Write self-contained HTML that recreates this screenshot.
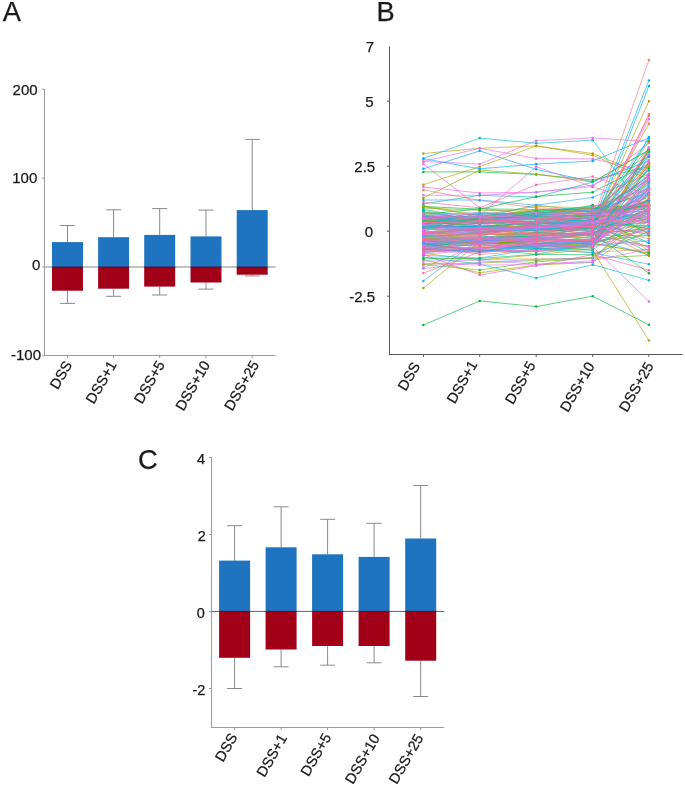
<!DOCTYPE html><html><head><meta charset="utf-8"><style>html,body{margin:0;padding:0;background:#fff;width:685px;height:788px;overflow:hidden;position:relative}</style></head><body><svg width="685" height="788" viewBox="0 0 685 788" style="position:absolute;left:0;top:0;will-change:transform">
<rect width="685" height="788" fill="#ffffff"/>
<text x="2.8" y="21.0" font-family='"Liberation Sans", sans-serif' font-size="27.3" fill="#1a1a1a" stroke="#1a1a1a" stroke-width="0.25" text-anchor="start" >A</text>
<text x="376.6" y="21.0" font-family='"Liberation Sans", sans-serif' font-size="27.3" fill="#1a1a1a" stroke="#1a1a1a" stroke-width="0.25" text-anchor="start" >B</text>
<text x="138.0" y="468.9" font-family='"Liberation Sans", sans-serif' font-size="27.3" fill="#1a1a1a" stroke="#1a1a1a" stroke-width="0.25" text-anchor="start" >C</text>
<line x1="44.5" y1="89" x2="44.5" y2="356.0" stroke="#9c9c9c" stroke-width="1" />
<line x1="44.0" y1="355.5" x2="275.4" y2="355.5" stroke="#9c9c9c" stroke-width="1" />
<line x1="42.0" y1="89.3" x2="44.5" y2="89.3" stroke="#9c9c9c" stroke-width="1" />
<text x="37.6" y="94.9" font-family='"Liberation Sans", sans-serif' font-size="15" fill="#1a1a1a" stroke="#1a1a1a" stroke-width="0.25" text-anchor="end" >200</text>
<line x1="42.0" y1="178.2" x2="44.5" y2="178.2" stroke="#9c9c9c" stroke-width="1" />
<text x="37.3" y="182.5" font-family='"Liberation Sans", sans-serif' font-size="15" fill="#1a1a1a" stroke="#1a1a1a" stroke-width="0.25" text-anchor="end" >100</text>
<line x1="42.0" y1="267" x2="44.5" y2="267" stroke="#9c9c9c" stroke-width="1" />
<text x="40.3" y="270.3" font-family='"Liberation Sans", sans-serif' font-size="15" fill="#1a1a1a" stroke="#1a1a1a" stroke-width="0.25" text-anchor="end" >0</text>
<line x1="42.0" y1="355.8" x2="44.5" y2="355.8" stroke="#9c9c9c" stroke-width="1" />
<text x="41" y="360.3" font-family='"Liberation Sans", sans-serif' font-size="15" fill="#1a1a1a" stroke="#1a1a1a" stroke-width="0.25" text-anchor="end" >-100</text>
<line x1="67.5" y1="355.5" x2="67.5" y2="358.0" stroke="#9c9c9c" stroke-width="1" />
<line x1="113.6" y1="355.5" x2="113.6" y2="358.0" stroke="#9c9c9c" stroke-width="1" />
<line x1="159.7" y1="355.5" x2="159.7" y2="358.0" stroke="#9c9c9c" stroke-width="1" />
<line x1="206" y1="355.5" x2="206" y2="358.0" stroke="#9c9c9c" stroke-width="1" />
<line x1="252.2" y1="355.5" x2="252.2" y2="358.0" stroke="#9c9c9c" stroke-width="1" />
<line x1="67.5" y1="225.5" x2="67.5" y2="242.1" stroke="#8a8a8a" stroke-width="1" />
<line x1="60.0" y1="225.5" x2="75.0" y2="225.5" stroke="#8a8a8a" stroke-width="1" />
<line x1="67.5" y1="290.7" x2="67.5" y2="303.4" stroke="#8a8a8a" stroke-width="1" />
<line x1="60.0" y1="303.4" x2="75.0" y2="303.4" stroke="#8a8a8a" stroke-width="1" />
<line x1="113.6" y1="209.8" x2="113.6" y2="237.2" stroke="#8a8a8a" stroke-width="1" />
<line x1="106.1" y1="209.8" x2="121.1" y2="209.8" stroke="#8a8a8a" stroke-width="1" />
<line x1="113.6" y1="288.7" x2="113.6" y2="296.3" stroke="#8a8a8a" stroke-width="1" />
<line x1="106.1" y1="296.3" x2="121.1" y2="296.3" stroke="#8a8a8a" stroke-width="1" />
<line x1="159.7" y1="208.6" x2="159.7" y2="234.9" stroke="#8a8a8a" stroke-width="1" />
<line x1="152.2" y1="208.6" x2="167.2" y2="208.6" stroke="#8a8a8a" stroke-width="1" />
<line x1="159.7" y1="286.6" x2="159.7" y2="295" stroke="#8a8a8a" stroke-width="1" />
<line x1="152.2" y1="295" x2="167.2" y2="295" stroke="#8a8a8a" stroke-width="1" />
<line x1="206" y1="210.1" x2="206" y2="236.4" stroke="#8a8a8a" stroke-width="1" />
<line x1="198.5" y1="210.1" x2="213.5" y2="210.1" stroke="#8a8a8a" stroke-width="1" />
<line x1="206" y1="282.5" x2="206" y2="289.1" stroke="#8a8a8a" stroke-width="1" />
<line x1="198.5" y1="289.1" x2="213.5" y2="289.1" stroke="#8a8a8a" stroke-width="1" />
<line x1="252.2" y1="139.4" x2="252.2" y2="210.1" stroke="#8a8a8a" stroke-width="1" />
<line x1="244.7" y1="139.4" x2="259.7" y2="139.4" stroke="#8a8a8a" stroke-width="1" />
<line x1="252.2" y1="274.7" x2="252.2" y2="275.9" stroke="#8a8a8a" stroke-width="1" />
<line x1="244.7" y1="275.9" x2="259.7" y2="275.9" stroke="#8a8a8a" stroke-width="1" />
<line x1="44.5" y1="267" x2="275.4" y2="267" stroke="#888888" stroke-width="1" />
<rect x="52.0" y="242.1" width="31" height="24.900000000000006" fill="#1f74c0"/>
<rect x="52.0" y="267" width="31" height="23.69999999999999" fill="#a10018"/>
<rect x="52.0" y="266.4" width="31" height="1.2" fill="#3c1030" opacity="0.7"/>
<rect x="98.1" y="237.2" width="31" height="29.80000000000001" fill="#1f74c0"/>
<rect x="98.1" y="267" width="31" height="21.69999999999999" fill="#a10018"/>
<rect x="98.1" y="266.4" width="31" height="1.2" fill="#3c1030" opacity="0.7"/>
<rect x="144.2" y="234.9" width="31" height="32.099999999999994" fill="#1f74c0"/>
<rect x="144.2" y="267" width="31" height="19.600000000000023" fill="#a10018"/>
<rect x="144.2" y="266.4" width="31" height="1.2" fill="#3c1030" opacity="0.7"/>
<rect x="190.5" y="236.4" width="31" height="30.599999999999994" fill="#1f74c0"/>
<rect x="190.5" y="267" width="31" height="15.5" fill="#a10018"/>
<rect x="190.5" y="266.4" width="31" height="1.2" fill="#3c1030" opacity="0.7"/>
<rect x="236.7" y="210.1" width="31" height="56.900000000000006" fill="#1f74c0"/>
<rect x="236.7" y="267" width="31" height="7.699999999999989" fill="#a10018"/>
<rect x="236.7" y="266.4" width="31" height="1.2" fill="#3c1030" opacity="0.7"/>
<text x="0" y="0" font-family='"Liberation Sans", sans-serif' font-size="14.5" fill="#1a1a1a" stroke="#1a1a1a" stroke-width="0.25" text-anchor="end" transform="translate(72.60,364.50) rotate(-60)">DSS</text>
<text x="0" y="0" font-family='"Liberation Sans", sans-serif' font-size="14.5" fill="#1a1a1a" stroke="#1a1a1a" stroke-width="0.25" text-anchor="end" transform="translate(117.00,364.50) rotate(-60)">DSS+1</text>
<text x="0" y="0" font-family='"Liberation Sans", sans-serif' font-size="14.5" fill="#1a1a1a" stroke="#1a1a1a" stroke-width="0.25" text-anchor="end" transform="translate(165.20,364.50) rotate(-60)">DSS+5</text>
<text x="0" y="0" font-family='"Liberation Sans", sans-serif' font-size="14.5" fill="#1a1a1a" stroke="#1a1a1a" stroke-width="0.25" text-anchor="end" transform="translate(210.60,364.50) rotate(-60)">DSS+10</text>
<text x="0" y="0" font-family='"Liberation Sans", sans-serif' font-size="14.5" fill="#1a1a1a" stroke="#1a1a1a" stroke-width="0.25" text-anchor="end" transform="translate(259.50,364.50) rotate(-60)">DSS+25</text>
<line x1="211.5" y1="457.5" x2="211.5" y2="728.0" stroke="#9c9c9c" stroke-width="1" />
<line x1="211.0" y1="727.5" x2="444.2" y2="727.5" stroke="#9c9c9c" stroke-width="1" />
<line x1="209.0" y1="457.5" x2="211.5" y2="457.5" stroke="#9c9c9c" stroke-width="1" />
<text x="205.2" y="464.3" font-family='"Liberation Sans", sans-serif' font-size="14.5" fill="#1a1a1a" stroke="#1a1a1a" stroke-width="0.25" text-anchor="end" >4</text>
<line x1="209.0" y1="534.5" x2="211.5" y2="534.5" stroke="#9c9c9c" stroke-width="1" />
<text x="205.8" y="541.2" font-family='"Liberation Sans", sans-serif' font-size="14.5" fill="#1a1a1a" stroke="#1a1a1a" stroke-width="0.25" text-anchor="end" >2</text>
<line x1="209.0" y1="611.4" x2="211.5" y2="611.4" stroke="#9c9c9c" stroke-width="1" />
<text x="204.8" y="618.2" font-family='"Liberation Sans", sans-serif' font-size="14.5" fill="#1a1a1a" stroke="#1a1a1a" stroke-width="0.25" text-anchor="end" >0</text>
<line x1="209.0" y1="688.5" x2="211.5" y2="688.5" stroke="#9c9c9c" stroke-width="1" />
<text x="205.3" y="695.2" font-family='"Liberation Sans", sans-serif' font-size="14.5" fill="#1a1a1a" stroke="#1a1a1a" stroke-width="0.25" text-anchor="end" >-2</text>
<line x1="234.6" y1="727.5" x2="234.6" y2="730.0" stroke="#9c9c9c" stroke-width="1" />
<line x1="281.1" y1="727.5" x2="281.1" y2="730.0" stroke="#9c9c9c" stroke-width="1" />
<line x1="327.6" y1="727.5" x2="327.6" y2="730.0" stroke="#9c9c9c" stroke-width="1" />
<line x1="374.1" y1="727.5" x2="374.1" y2="730.0" stroke="#9c9c9c" stroke-width="1" />
<line x1="420.7" y1="727.5" x2="420.7" y2="730.0" stroke="#9c9c9c" stroke-width="1" />
<line x1="234.6" y1="525.7" x2="234.6" y2="560.6" stroke="#8a8a8a" stroke-width="1" />
<line x1="227.1" y1="525.7" x2="242.1" y2="525.7" stroke="#8a8a8a" stroke-width="1" />
<line x1="234.6" y1="657.8" x2="234.6" y2="688.5" stroke="#8a8a8a" stroke-width="1" />
<line x1="227.1" y1="688.5" x2="242.1" y2="688.5" stroke="#8a8a8a" stroke-width="1" />
<line x1="281.1" y1="506.8" x2="281.1" y2="547.3" stroke="#8a8a8a" stroke-width="1" />
<line x1="273.6" y1="506.8" x2="288.6" y2="506.8" stroke="#8a8a8a" stroke-width="1" />
<line x1="281.1" y1="649.5" x2="281.1" y2="666.8" stroke="#8a8a8a" stroke-width="1" />
<line x1="273.6" y1="666.8" x2="288.6" y2="666.8" stroke="#8a8a8a" stroke-width="1" />
<line x1="327.6" y1="519.3" x2="327.6" y2="554.3" stroke="#8a8a8a" stroke-width="1" />
<line x1="320.1" y1="519.3" x2="335.1" y2="519.3" stroke="#8a8a8a" stroke-width="1" />
<line x1="327.6" y1="646" x2="327.6" y2="665.2" stroke="#8a8a8a" stroke-width="1" />
<line x1="320.1" y1="665.2" x2="335.1" y2="665.2" stroke="#8a8a8a" stroke-width="1" />
<line x1="374.1" y1="523.3" x2="374.1" y2="556.9" stroke="#8a8a8a" stroke-width="1" />
<line x1="366.6" y1="523.3" x2="381.6" y2="523.3" stroke="#8a8a8a" stroke-width="1" />
<line x1="374.1" y1="646" x2="374.1" y2="662.8" stroke="#8a8a8a" stroke-width="1" />
<line x1="366.6" y1="662.8" x2="381.6" y2="662.8" stroke="#8a8a8a" stroke-width="1" />
<line x1="420.7" y1="485.5" x2="420.7" y2="538.5" stroke="#8a8a8a" stroke-width="1" />
<line x1="413.2" y1="485.5" x2="428.2" y2="485.5" stroke="#8a8a8a" stroke-width="1" />
<line x1="420.7" y1="660.7" x2="420.7" y2="696.5" stroke="#8a8a8a" stroke-width="1" />
<line x1="413.2" y1="696.5" x2="428.2" y2="696.5" stroke="#8a8a8a" stroke-width="1" />
<line x1="211.5" y1="611.4" x2="444.2" y2="611.4" stroke="#606060" stroke-width="1" />
<rect x="219.1" y="560.6" width="31" height="50.799999999999955" fill="#1f74c0"/>
<rect x="219.1" y="611.4" width="31" height="46.39999999999998" fill="#a10018"/>
<rect x="219.1" y="610.8" width="31" height="1.2" fill="#3c1030" opacity="0.7"/>
<rect x="265.6" y="547.3" width="31" height="64.10000000000002" fill="#1f74c0"/>
<rect x="265.6" y="611.4" width="31" height="38.10000000000002" fill="#a10018"/>
<rect x="265.6" y="610.8" width="31" height="1.2" fill="#3c1030" opacity="0.7"/>
<rect x="312.1" y="554.3" width="31" height="57.10000000000002" fill="#1f74c0"/>
<rect x="312.1" y="611.4" width="31" height="34.60000000000002" fill="#a10018"/>
<rect x="312.1" y="610.8" width="31" height="1.2" fill="#3c1030" opacity="0.7"/>
<rect x="358.6" y="556.9" width="31" height="54.5" fill="#1f74c0"/>
<rect x="358.6" y="611.4" width="31" height="34.60000000000002" fill="#a10018"/>
<rect x="358.6" y="610.8" width="31" height="1.2" fill="#3c1030" opacity="0.7"/>
<rect x="405.2" y="538.5" width="31" height="72.89999999999998" fill="#1f74c0"/>
<rect x="405.2" y="611.4" width="31" height="49.30000000000007" fill="#a10018"/>
<rect x="405.2" y="610.8" width="31" height="1.2" fill="#3c1030" opacity="0.7"/>
<text x="0" y="0" font-family='"Liberation Sans", sans-serif' font-size="14.5" fill="#1a1a1a" stroke="#1a1a1a" stroke-width="0.25" text-anchor="end" transform="translate(237.90,736.80) rotate(-60)">DSS</text>
<text x="0" y="0" font-family='"Liberation Sans", sans-serif' font-size="14.5" fill="#1a1a1a" stroke="#1a1a1a" stroke-width="0.25" text-anchor="end" transform="translate(287.60,737.80) rotate(-60)">DSS+1</text>
<text x="0" y="0" font-family='"Liberation Sans", sans-serif' font-size="14.5" fill="#1a1a1a" stroke="#1a1a1a" stroke-width="0.25" text-anchor="end" transform="translate(331.70,737.00) rotate(-60)">DSS+5</text>
<text x="0" y="0" font-family='"Liberation Sans", sans-serif' font-size="14.5" fill="#1a1a1a" stroke="#1a1a1a" stroke-width="0.25" text-anchor="end" transform="translate(380.20,737.80) rotate(-60)">DSS+10</text>
<text x="0" y="0" font-family='"Liberation Sans", sans-serif' font-size="14.5" fill="#1a1a1a" stroke="#1a1a1a" stroke-width="0.25" text-anchor="end" transform="translate(423.90,737.80) rotate(-60)">DSS+25</text>
<line x1="389.5" y1="46.4" x2="389.5" y2="355.0" stroke="#5a5a5a" stroke-width="1"/>
<line x1="389.0" y1="354.5" x2="682.7" y2="354.5" stroke="#5a5a5a" stroke-width="1"/>
<line x1="387.0" y1="101.19999999999999" x2="389.5" y2="101.19999999999999" stroke="#5a5a5a" stroke-width="1" />
<text x="373.7" y="107.4" font-family='"Liberation Sans", sans-serif' font-size="15" fill="#1a1a1a" stroke="#1a1a1a" stroke-width="0.25" text-anchor="end" >5</text>
<line x1="387.0" y1="166.2" x2="389.5" y2="166.2" stroke="#5a5a5a" stroke-width="1" />
<text x="375.2" y="171.8" font-family='"Liberation Sans", sans-serif' font-size="15" fill="#1a1a1a" stroke="#1a1a1a" stroke-width="0.25" text-anchor="end" >2.5</text>
<line x1="387.0" y1="231.2" x2="389.5" y2="231.2" stroke="#5a5a5a" stroke-width="1" />
<text x="373.2" y="236.9" font-family='"Liberation Sans", sans-serif' font-size="15" fill="#1a1a1a" stroke="#1a1a1a" stroke-width="0.25" text-anchor="end" >0</text>
<line x1="387.0" y1="296.2" x2="389.5" y2="296.2" stroke="#5a5a5a" stroke-width="1" />
<text x="375" y="301.7" font-family='"Liberation Sans", sans-serif' font-size="15" fill="#1a1a1a" stroke="#1a1a1a" stroke-width="0.25" text-anchor="end" >-2.5</text>
<text x="374.2" y="52.3" font-family='"Liberation Sans", sans-serif' font-size="15" fill="#1a1a1a" stroke="#1a1a1a" stroke-width="0.25" text-anchor="end" >7</text>
<line x1="423.4" y1="354.5" x2="423.4" y2="357.0" stroke="#5a5a5a" stroke-width="1" />
<line x1="479.7" y1="354.5" x2="479.7" y2="357.0" stroke="#5a5a5a" stroke-width="1" />
<line x1="536.2" y1="354.5" x2="536.2" y2="357.0" stroke="#5a5a5a" stroke-width="1" />
<line x1="592.7" y1="354.5" x2="592.7" y2="357.0" stroke="#5a5a5a" stroke-width="1" />
<line x1="648.9" y1="354.5" x2="648.9" y2="357.0" stroke="#5a5a5a" stroke-width="1" />
<text x="0" y="0" font-family='"Liberation Sans", sans-serif' font-size="14.5" fill="#1a1a1a" stroke="#1a1a1a" stroke-width="0.25" text-anchor="end" transform="translate(420.70,365.80) rotate(-60)">DSS</text>
<text x="0" y="0" font-family='"Liberation Sans", sans-serif' font-size="14.5" fill="#1a1a1a" stroke="#1a1a1a" stroke-width="0.25" text-anchor="end" transform="translate(477.90,364.30) rotate(-60)">DSS+1</text>
<text x="0" y="0" font-family='"Liberation Sans", sans-serif' font-size="14.5" fill="#1a1a1a" stroke="#1a1a1a" stroke-width="0.25" text-anchor="end" transform="translate(536.10,365.00) rotate(-60)">DSS+5</text>
<text x="0" y="0" font-family='"Liberation Sans", sans-serif' font-size="14.5" fill="#1a1a1a" stroke="#1a1a1a" stroke-width="0.25" text-anchor="end" transform="translate(595.10,365.80) rotate(-60)">DSS+10</text>
<text x="0" y="0" font-family='"Liberation Sans", sans-serif' font-size="14.5" fill="#1a1a1a" stroke="#1a1a1a" stroke-width="0.25" text-anchor="end" transform="translate(654.10,365.80) rotate(-60)">DSS+25</text>
<polyline points="423.4,153.5 479.7,148.3 536.2,145.9 592.7,153.5 648.9,176.1" fill="none" stroke="#b79f00" stroke-width="0.65" stroke-opacity="1"/>
<circle cx="423.4" cy="153.5" r="1.25" fill="#b79f00"/>
<circle cx="479.7" cy="148.3" r="1.25" fill="#b79f00"/>
<circle cx="536.2" cy="145.9" r="1.25" fill="#b79f00"/>
<circle cx="592.7" cy="153.5" r="1.25" fill="#b79f00"/>
<circle cx="648.9" cy="176.1" r="1.25" fill="#b79f00"/>
<polyline points="423.4,158.4 479.7,138.1 536.2,143.3 592.7,140.2 648.9,215.6" fill="none" stroke="#00bfc4" stroke-width="0.65" stroke-opacity="1"/>
<circle cx="423.4" cy="158.4" r="1.25" fill="#00bfc4"/>
<circle cx="479.7" cy="138.1" r="1.25" fill="#00bfc4"/>
<circle cx="536.2" cy="143.3" r="1.25" fill="#00bfc4"/>
<circle cx="592.7" cy="140.2" r="1.25" fill="#00bfc4"/>
<circle cx="648.9" cy="215.6" r="1.25" fill="#00bfc4"/>
<polyline points="423.4,161.5 479.7,148.3 536.2,158.4 592.7,158.9 648.9,171.4" fill="none" stroke="#f564e3" stroke-width="0.65" stroke-opacity="1"/>
<circle cx="423.4" cy="161.5" r="1.25" fill="#f564e3"/>
<circle cx="479.7" cy="148.3" r="1.25" fill="#f564e3"/>
<circle cx="536.2" cy="158.4" r="1.25" fill="#f564e3"/>
<circle cx="592.7" cy="158.9" r="1.25" fill="#f564e3"/>
<circle cx="648.9" cy="171.4" r="1.25" fill="#f564e3"/>
<polyline points="423.4,163.9 479.7,207.8 536.2,215.6 592.7,218.2 648.9,200.0" fill="none" stroke="#fb61d7" stroke-width="0.65" stroke-opacity="1"/>
<circle cx="423.4" cy="163.9" r="1.25" fill="#fb61d7"/>
<circle cx="479.7" cy="207.8" r="1.25" fill="#fb61d7"/>
<circle cx="536.2" cy="215.6" r="1.25" fill="#fb61d7"/>
<circle cx="592.7" cy="218.2" r="1.25" fill="#fb61d7"/>
<circle cx="648.9" cy="200.0" r="1.25" fill="#fb61d7"/>
<polyline points="423.4,168.8 479.7,150.9 536.2,169.3 592.7,181.8 648.9,161.0" fill="none" stroke="#00a9ff" stroke-width="0.65" stroke-opacity="1"/>
<circle cx="423.4" cy="168.8" r="1.25" fill="#00a9ff"/>
<circle cx="479.7" cy="150.9" r="1.25" fill="#00a9ff"/>
<circle cx="536.2" cy="169.3" r="1.25" fill="#00a9ff"/>
<circle cx="592.7" cy="181.8" r="1.25" fill="#00a9ff"/>
<circle cx="648.9" cy="161.0" r="1.25" fill="#00a9ff"/>
<polyline points="423.4,171.9 479.7,171.9 536.2,174.5 592.7,180.0 648.9,166.5" fill="none" stroke="#00ba38" stroke-width="0.65" stroke-opacity="1"/>
<circle cx="423.4" cy="171.9" r="1.25" fill="#00ba38"/>
<circle cx="479.7" cy="171.9" r="1.25" fill="#00ba38"/>
<circle cx="536.2" cy="174.5" r="1.25" fill="#00ba38"/>
<circle cx="592.7" cy="180.0" r="1.25" fill="#00ba38"/>
<circle cx="648.9" cy="166.5" r="1.25" fill="#00ba38"/>
<polyline points="423.4,184.7 479.7,166.7 536.2,145.9 592.7,155.3 648.9,179.2" fill="none" stroke="#b79f00" stroke-width="0.65" stroke-opacity="1"/>
<circle cx="423.4" cy="184.7" r="1.25" fill="#b79f00"/>
<circle cx="479.7" cy="166.7" r="1.25" fill="#b79f00"/>
<circle cx="536.2" cy="145.9" r="1.25" fill="#b79f00"/>
<circle cx="592.7" cy="155.3" r="1.25" fill="#b79f00"/>
<circle cx="648.9" cy="179.2" r="1.25" fill="#b79f00"/>
<polyline points="423.4,187.0 479.7,193.0 536.2,192.2 592.7,186.7 648.9,143.1" fill="none" stroke="#f564e3" stroke-width="0.65" stroke-opacity="1"/>
<circle cx="423.4" cy="187.0" r="1.25" fill="#f564e3"/>
<circle cx="479.7" cy="193.0" r="1.25" fill="#f564e3"/>
<circle cx="536.2" cy="192.2" r="1.25" fill="#f564e3"/>
<circle cx="592.7" cy="186.7" r="1.25" fill="#f564e3"/>
<circle cx="648.9" cy="143.1" r="1.25" fill="#f564e3"/>
<polyline points="423.4,189.9 479.7,200.5 536.2,207.8 592.7,210.4 648.9,192.2" fill="none" stroke="#f8766d" stroke-width="0.65" stroke-opacity="1"/>
<circle cx="423.4" cy="189.9" r="1.25" fill="#f8766d"/>
<circle cx="479.7" cy="200.5" r="1.25" fill="#f8766d"/>
<circle cx="536.2" cy="207.8" r="1.25" fill="#f8766d"/>
<circle cx="592.7" cy="210.4" r="1.25" fill="#f8766d"/>
<circle cx="648.9" cy="192.2" r="1.25" fill="#f8766d"/>
<polyline points="423.4,195.3 479.7,195.3 536.2,192.2 592.7,185.2 648.9,156.3" fill="none" stroke="#c77cff" stroke-width="0.65" stroke-opacity="1"/>
<circle cx="423.4" cy="195.3" r="1.25" fill="#c77cff"/>
<circle cx="479.7" cy="195.3" r="1.25" fill="#c77cff"/>
<circle cx="536.2" cy="192.2" r="1.25" fill="#c77cff"/>
<circle cx="592.7" cy="185.2" r="1.25" fill="#c77cff"/>
<circle cx="648.9" cy="156.3" r="1.25" fill="#c77cff"/>
<polyline points="423.4,197.9 479.7,170.1 536.2,174.0 592.7,182.1 648.9,150.6" fill="none" stroke="#9ca700" stroke-width="0.65" stroke-opacity="1"/>
<circle cx="423.4" cy="197.9" r="1.25" fill="#9ca700"/>
<circle cx="479.7" cy="170.1" r="1.25" fill="#9ca700"/>
<circle cx="536.2" cy="174.0" r="1.25" fill="#9ca700"/>
<circle cx="592.7" cy="182.1" r="1.25" fill="#9ca700"/>
<circle cx="648.9" cy="150.6" r="1.25" fill="#9ca700"/>
<polyline points="423.4,161.5 479.7,164.1 536.2,140.7 592.7,137.9 648.9,141.5" fill="none" stroke="#f066ea" stroke-width="0.65" stroke-opacity="1"/>
<circle cx="423.4" cy="161.5" r="1.25" fill="#f066ea"/>
<circle cx="479.7" cy="164.1" r="1.25" fill="#f066ea"/>
<circle cx="536.2" cy="140.7" r="1.25" fill="#f066ea"/>
<circle cx="592.7" cy="137.9" r="1.25" fill="#f066ea"/>
<circle cx="648.9" cy="141.5" r="1.25" fill="#f066ea"/>
<polyline points="423.4,158.7 479.7,168.8 536.2,164.1 592.7,161.0 648.9,137.9" fill="none" stroke="#00a9ff" stroke-width="0.65" stroke-opacity="1"/>
<circle cx="423.4" cy="158.7" r="1.25" fill="#00a9ff"/>
<circle cx="479.7" cy="168.8" r="1.25" fill="#00a9ff"/>
<circle cx="536.2" cy="164.1" r="1.25" fill="#00a9ff"/>
<circle cx="592.7" cy="161.0" r="1.25" fill="#00a9ff"/>
<circle cx="648.9" cy="137.9" r="1.25" fill="#00a9ff"/>
<polyline points="423.4,203.9 479.7,195.3 536.2,197.1 592.7,182.1 648.9,149.8" fill="none" stroke="#00c19a" stroke-width="0.65" stroke-opacity="1"/>
<circle cx="423.4" cy="203.9" r="1.25" fill="#00c19a"/>
<circle cx="479.7" cy="195.3" r="1.25" fill="#00c19a"/>
<circle cx="536.2" cy="197.1" r="1.25" fill="#00c19a"/>
<circle cx="592.7" cy="182.1" r="1.25" fill="#00c19a"/>
<circle cx="648.9" cy="149.8" r="1.25" fill="#00c19a"/>
<polyline points="423.4,202.1 479.7,207.8 536.2,184.7 592.7,176.6 648.9,194.8" fill="none" stroke="#ff64b0" stroke-width="0.65" stroke-opacity="1"/>
<circle cx="423.4" cy="202.1" r="1.25" fill="#ff64b0"/>
<circle cx="479.7" cy="207.8" r="1.25" fill="#ff64b0"/>
<circle cx="536.2" cy="184.7" r="1.25" fill="#ff64b0"/>
<circle cx="592.7" cy="176.6" r="1.25" fill="#ff64b0"/>
<circle cx="648.9" cy="194.8" r="1.25" fill="#ff64b0"/>
<polyline points="423.4,223.4 479.7,215.6 536.2,166.7 592.7,186.7 648.9,205.2" fill="none" stroke="#f564e3" stroke-width="0.65" stroke-opacity="1"/>
<circle cx="423.4" cy="223.4" r="1.25" fill="#f564e3"/>
<circle cx="479.7" cy="215.6" r="1.25" fill="#f564e3"/>
<circle cx="536.2" cy="166.7" r="1.25" fill="#f564e3"/>
<circle cx="592.7" cy="186.7" r="1.25" fill="#f564e3"/>
<circle cx="648.9" cy="205.2" r="1.25" fill="#f564e3"/>
<polyline points="423.4,200.0 479.7,200.0 536.2,205.2 592.7,197.4 648.9,174.0" fill="none" stroke="#35a2ff" stroke-width="0.65" stroke-opacity="1"/>
<circle cx="423.4" cy="200.0" r="1.25" fill="#35a2ff"/>
<circle cx="479.7" cy="200.0" r="1.25" fill="#35a2ff"/>
<circle cx="536.2" cy="205.2" r="1.25" fill="#35a2ff"/>
<circle cx="592.7" cy="197.4" r="1.25" fill="#35a2ff"/>
<circle cx="648.9" cy="174.0" r="1.25" fill="#35a2ff"/>
<polyline points="423.4,206.5 479.7,209.1 536.2,196.6 592.7,192.2 648.9,163.6" fill="none" stroke="#00ba38" stroke-width="0.65" stroke-opacity="1"/>
<circle cx="423.4" cy="206.5" r="1.25" fill="#00ba38"/>
<circle cx="479.7" cy="209.1" r="1.25" fill="#00ba38"/>
<circle cx="536.2" cy="196.6" r="1.25" fill="#00ba38"/>
<circle cx="592.7" cy="192.2" r="1.25" fill="#00ba38"/>
<circle cx="648.9" cy="163.6" r="1.25" fill="#00ba38"/>
<polyline points="423.4,267.6 479.7,244.2 536.2,241.6 592.7,246.8 648.9,301.4" fill="none" stroke="#fd61d1" stroke-width="0.65" stroke-opacity="1"/>
<circle cx="423.4" cy="267.6" r="1.25" fill="#fd61d1"/>
<circle cx="479.7" cy="244.2" r="1.25" fill="#fd61d1"/>
<circle cx="536.2" cy="241.6" r="1.25" fill="#fd61d1"/>
<circle cx="592.7" cy="246.8" r="1.25" fill="#fd61d1"/>
<circle cx="648.9" cy="301.4" r="1.25" fill="#fd61d1"/>
<polyline points="423.4,273.1 479.7,252.0 536.2,249.4 592.7,244.2 648.9,205.2" fill="none" stroke="#ff6c91" stroke-width="0.65" stroke-opacity="1"/>
<circle cx="423.4" cy="273.1" r="1.25" fill="#ff6c91"/>
<circle cx="479.7" cy="252.0" r="1.25" fill="#ff6c91"/>
<circle cx="536.2" cy="249.4" r="1.25" fill="#ff6c91"/>
<circle cx="592.7" cy="244.2" r="1.25" fill="#ff6c91"/>
<circle cx="648.9" cy="205.2" r="1.25" fill="#ff6c91"/>
<polyline points="423.4,280.9 479.7,239.0 536.2,236.4 592.7,233.8 648.9,218.2" fill="none" stroke="#35a2ff" stroke-width="0.65" stroke-opacity="1"/>
<circle cx="423.4" cy="280.9" r="1.25" fill="#35a2ff"/>
<circle cx="479.7" cy="239.0" r="1.25" fill="#35a2ff"/>
<circle cx="536.2" cy="236.4" r="1.25" fill="#35a2ff"/>
<circle cx="592.7" cy="233.8" r="1.25" fill="#35a2ff"/>
<circle cx="648.9" cy="218.2" r="1.25" fill="#35a2ff"/>
<polyline points="423.4,288.1 479.7,241.6 536.2,244.2 592.7,250.4 648.9,340.4" fill="none" stroke="#b79f00" stroke-width="0.65" stroke-opacity="1"/>
<circle cx="423.4" cy="288.1" r="1.25" fill="#b79f00"/>
<circle cx="479.7" cy="241.6" r="1.25" fill="#b79f00"/>
<circle cx="536.2" cy="244.2" r="1.25" fill="#b79f00"/>
<circle cx="592.7" cy="250.4" r="1.25" fill="#b79f00"/>
<circle cx="648.9" cy="340.4" r="1.25" fill="#b79f00"/>
<polyline points="423.4,259.8 479.7,272.8 536.2,265.0 592.7,262.4 648.9,220.8" fill="none" stroke="#9ca700" stroke-width="0.65" stroke-opacity="1"/>
<circle cx="423.4" cy="259.8" r="1.25" fill="#9ca700"/>
<circle cx="479.7" cy="272.8" r="1.25" fill="#9ca700"/>
<circle cx="536.2" cy="265.0" r="1.25" fill="#9ca700"/>
<circle cx="592.7" cy="262.4" r="1.25" fill="#9ca700"/>
<circle cx="648.9" cy="220.8" r="1.25" fill="#9ca700"/>
<polyline points="423.4,254.6 479.7,274.9 536.2,265.8 592.7,254.6 648.9,270.2" fill="none" stroke="#ff62bc" stroke-width="0.65" stroke-opacity="1"/>
<circle cx="423.4" cy="254.6" r="1.25" fill="#ff62bc"/>
<circle cx="479.7" cy="274.9" r="1.25" fill="#ff62bc"/>
<circle cx="536.2" cy="265.8" r="1.25" fill="#ff62bc"/>
<circle cx="592.7" cy="254.6" r="1.25" fill="#ff62bc"/>
<circle cx="648.9" cy="270.2" r="1.25" fill="#ff62bc"/>
<polyline points="423.4,257.2 479.7,264.0 536.2,278.0 592.7,264.7 648.9,280.3" fill="none" stroke="#00bfc4" stroke-width="0.65" stroke-opacity="1"/>
<circle cx="423.4" cy="257.2" r="1.25" fill="#00bfc4"/>
<circle cx="479.7" cy="264.0" r="1.25" fill="#00bfc4"/>
<circle cx="536.2" cy="278.0" r="1.25" fill="#00bfc4"/>
<circle cx="592.7" cy="264.7" r="1.25" fill="#00bfc4"/>
<circle cx="648.9" cy="280.3" r="1.25" fill="#00bfc4"/>
<polyline points="423.4,325.1 479.7,300.9 536.2,306.6 592.7,296.2 648.9,324.8" fill="none" stroke="#00ba38" stroke-width="0.65" stroke-opacity="1"/>
<circle cx="423.4" cy="325.1" r="1.25" fill="#00ba38"/>
<circle cx="479.7" cy="300.9" r="1.25" fill="#00ba38"/>
<circle cx="536.2" cy="306.6" r="1.25" fill="#00ba38"/>
<circle cx="592.7" cy="296.2" r="1.25" fill="#00ba38"/>
<circle cx="648.9" cy="324.8" r="1.25" fill="#00ba38"/>
<polyline points="423.4,215.6 479.7,223.4 536.2,218.2 592.7,220.8 648.9,60.1" fill="none" stroke="#f8766d" stroke-width="0.65" stroke-opacity="1"/>
<circle cx="423.4" cy="215.6" r="1.25" fill="#f8766d"/>
<circle cx="479.7" cy="223.4" r="1.25" fill="#f8766d"/>
<circle cx="536.2" cy="218.2" r="1.25" fill="#f8766d"/>
<circle cx="592.7" cy="220.8" r="1.25" fill="#f8766d"/>
<circle cx="648.9" cy="60.1" r="1.25" fill="#f8766d"/>
<polyline points="423.4,223.4 479.7,228.6 536.2,226.0 592.7,223.4 648.9,80.4" fill="none" stroke="#00b0f6" stroke-width="0.65" stroke-opacity="1"/>
<circle cx="423.4" cy="223.4" r="1.25" fill="#00b0f6"/>
<circle cx="479.7" cy="228.6" r="1.25" fill="#00b0f6"/>
<circle cx="536.2" cy="226.0" r="1.25" fill="#00b0f6"/>
<circle cx="592.7" cy="223.4" r="1.25" fill="#00b0f6"/>
<circle cx="648.9" cy="80.4" r="1.25" fill="#00b0f6"/>
<polyline points="423.4,226.0 479.7,231.2 536.2,228.6 592.7,228.6 648.9,85.9" fill="none" stroke="#00a5ff" stroke-width="0.65" stroke-opacity="1"/>
<circle cx="423.4" cy="226.0" r="1.25" fill="#00a5ff"/>
<circle cx="479.7" cy="231.2" r="1.25" fill="#00a5ff"/>
<circle cx="536.2" cy="228.6" r="1.25" fill="#00a5ff"/>
<circle cx="592.7" cy="228.6" r="1.25" fill="#00a5ff"/>
<circle cx="648.9" cy="85.9" r="1.25" fill="#00a5ff"/>
<polyline points="423.4,228.6 479.7,226.0 536.2,231.2 592.7,226.0 648.9,101.2" fill="none" stroke="#9ca700" stroke-width="0.65" stroke-opacity="1"/>
<circle cx="423.4" cy="228.6" r="1.25" fill="#9ca700"/>
<circle cx="479.7" cy="226.0" r="1.25" fill="#9ca700"/>
<circle cx="536.2" cy="231.2" r="1.25" fill="#9ca700"/>
<circle cx="592.7" cy="226.0" r="1.25" fill="#9ca700"/>
<circle cx="648.9" cy="101.2" r="1.25" fill="#9ca700"/>
<polyline points="423.4,233.8 479.7,228.6 536.2,226.0 592.7,231.2 648.9,114.2" fill="none" stroke="#ea8331" stroke-width="0.65" stroke-opacity="1"/>
<circle cx="423.4" cy="233.8" r="1.25" fill="#ea8331"/>
<circle cx="479.7" cy="228.6" r="1.25" fill="#ea8331"/>
<circle cx="536.2" cy="226.0" r="1.25" fill="#ea8331"/>
<circle cx="592.7" cy="231.2" r="1.25" fill="#ea8331"/>
<circle cx="648.9" cy="114.2" r="1.25" fill="#ea8331"/>
<polyline points="423.4,231.2 479.7,233.8 536.2,228.6 592.7,226.0 648.9,116.0" fill="none" stroke="#ff62bc" stroke-width="0.65" stroke-opacity="1"/>
<circle cx="423.4" cy="231.2" r="1.25" fill="#ff62bc"/>
<circle cx="479.7" cy="233.8" r="1.25" fill="#ff62bc"/>
<circle cx="536.2" cy="228.6" r="1.25" fill="#ff62bc"/>
<circle cx="592.7" cy="226.0" r="1.25" fill="#ff62bc"/>
<circle cx="648.9" cy="116.0" r="1.25" fill="#ff62bc"/>
<polyline points="423.4,226.0 479.7,223.4 536.2,231.2 592.7,228.6 648.9,118.9" fill="none" stroke="#f564e3" stroke-width="0.65" stroke-opacity="1"/>
<circle cx="423.4" cy="226.0" r="1.25" fill="#f564e3"/>
<circle cx="479.7" cy="223.4" r="1.25" fill="#f564e3"/>
<circle cx="536.2" cy="231.2" r="1.25" fill="#f564e3"/>
<circle cx="592.7" cy="228.6" r="1.25" fill="#f564e3"/>
<circle cx="648.9" cy="118.9" r="1.25" fill="#f564e3"/>
<polyline points="423.4,220.8 479.7,226.0 536.2,223.4 592.7,223.4 648.9,123.8" fill="none" stroke="#e38900" stroke-width="0.65" stroke-opacity="1"/>
<circle cx="423.4" cy="220.8" r="1.25" fill="#e38900"/>
<circle cx="479.7" cy="226.0" r="1.25" fill="#e38900"/>
<circle cx="536.2" cy="223.4" r="1.25" fill="#e38900"/>
<circle cx="592.7" cy="223.4" r="1.25" fill="#e38900"/>
<circle cx="648.9" cy="123.8" r="1.25" fill="#e38900"/>
<polyline points="423.4,228.6 479.7,231.2 536.2,228.6 592.7,233.8 648.9,137.1" fill="none" stroke="#00b4ef" stroke-width="0.65" stroke-opacity="1"/>
<circle cx="423.4" cy="228.6" r="1.25" fill="#00b4ef"/>
<circle cx="479.7" cy="231.2" r="1.25" fill="#00b4ef"/>
<circle cx="536.2" cy="228.6" r="1.25" fill="#00b4ef"/>
<circle cx="592.7" cy="233.8" r="1.25" fill="#00b4ef"/>
<circle cx="648.9" cy="137.1" r="1.25" fill="#00b4ef"/>
<polyline points="423.4,225.4 479.7,231.3 536.2,232.4 592.7,224.4 648.9,211.0" fill="none" stroke="#ee8045" stroke-width="0.65" stroke-opacity="0.9"/>
<circle cx="423.4" cy="225.4" r="1.25" fill="#ee8045"/>
<circle cx="479.7" cy="231.3" r="1.25" fill="#ee8045"/>
<circle cx="536.2" cy="232.4" r="1.25" fill="#ee8045"/>
<circle cx="592.7" cy="224.4" r="1.25" fill="#ee8045"/>
<circle cx="648.9" cy="211.0" r="1.25" fill="#ee8045"/>
<polyline points="423.4,239.5 479.7,233.1 536.2,233.2 592.7,234.3 648.9,228.4" fill="none" stroke="#d98f00" stroke-width="0.65" stroke-opacity="0.9"/>
<circle cx="423.4" cy="239.5" r="1.25" fill="#d98f00"/>
<circle cx="479.7" cy="233.1" r="1.25" fill="#d98f00"/>
<circle cx="536.2" cy="233.2" r="1.25" fill="#d98f00"/>
<circle cx="592.7" cy="234.3" r="1.25" fill="#d98f00"/>
<circle cx="648.9" cy="228.4" r="1.25" fill="#d98f00"/>
<polyline points="423.4,226.8 479.7,226.6 536.2,226.4 592.7,222.2 648.9,181.5" fill="none" stroke="#e58700" stroke-width="0.65" stroke-opacity="0.9"/>
<circle cx="423.4" cy="226.8" r="1.25" fill="#e58700"/>
<circle cx="479.7" cy="226.6" r="1.25" fill="#e58700"/>
<circle cx="536.2" cy="226.4" r="1.25" fill="#e58700"/>
<circle cx="592.7" cy="222.2" r="1.25" fill="#e58700"/>
<circle cx="648.9" cy="181.5" r="1.25" fill="#e58700"/>
<polyline points="423.4,217.5 479.7,224.0 536.2,217.1 592.7,219.1 648.9,213.1" fill="none" stroke="#bc9d00" stroke-width="0.65" stroke-opacity="0.9"/>
<circle cx="423.4" cy="217.5" r="1.25" fill="#bc9d00"/>
<circle cx="479.7" cy="224.0" r="1.25" fill="#bc9d00"/>
<circle cx="536.2" cy="217.1" r="1.25" fill="#bc9d00"/>
<circle cx="592.7" cy="219.1" r="1.25" fill="#bc9d00"/>
<circle cx="648.9" cy="213.1" r="1.25" fill="#bc9d00"/>
<polyline points="423.4,253.3 479.7,260.1 536.2,254.8 592.7,248.7 648.9,149.7" fill="none" stroke="#c69900" stroke-width="0.65" stroke-opacity="0.9"/>
<circle cx="423.4" cy="253.3" r="1.25" fill="#c69900"/>
<circle cx="479.7" cy="260.1" r="1.25" fill="#c69900"/>
<circle cx="536.2" cy="254.8" r="1.25" fill="#c69900"/>
<circle cx="592.7" cy="248.7" r="1.25" fill="#c69900"/>
<circle cx="648.9" cy="149.7" r="1.25" fill="#c69900"/>
<polyline points="423.4,233.1 479.7,228.6 536.2,235.8 592.7,228.1 648.9,221.8" fill="none" stroke="#cc9600" stroke-width="0.65" stroke-opacity="0.9"/>
<circle cx="423.4" cy="233.1" r="1.25" fill="#cc9600"/>
<circle cx="479.7" cy="228.6" r="1.25" fill="#cc9600"/>
<circle cx="536.2" cy="235.8" r="1.25" fill="#cc9600"/>
<circle cx="592.7" cy="228.1" r="1.25" fill="#cc9600"/>
<circle cx="648.9" cy="221.8" r="1.25" fill="#cc9600"/>
<polyline points="423.4,257.4 479.7,259.4 536.2,258.9 592.7,258.6 648.9,208.4" fill="none" stroke="#bf9c00" stroke-width="0.65" stroke-opacity="0.9"/>
<circle cx="423.4" cy="257.4" r="1.25" fill="#bf9c00"/>
<circle cx="479.7" cy="259.4" r="1.25" fill="#bf9c00"/>
<circle cx="536.2" cy="258.9" r="1.25" fill="#bf9c00"/>
<circle cx="592.7" cy="258.6" r="1.25" fill="#bf9c00"/>
<circle cx="648.9" cy="208.4" r="1.25" fill="#bf9c00"/>
<polyline points="423.4,232.5 479.7,240.2 536.2,238.4 592.7,235.4 648.9,235.4" fill="none" stroke="#e08b00" stroke-width="0.65" stroke-opacity="0.9"/>
<circle cx="423.4" cy="232.5" r="1.25" fill="#e08b00"/>
<circle cx="479.7" cy="240.2" r="1.25" fill="#e08b00"/>
<circle cx="536.2" cy="238.4" r="1.25" fill="#e08b00"/>
<circle cx="592.7" cy="235.4" r="1.25" fill="#e08b00"/>
<circle cx="648.9" cy="235.4" r="1.25" fill="#e08b00"/>
<polyline points="423.4,218.9 479.7,218.6 536.2,217.6 592.7,214.8 648.9,188.7" fill="none" stroke="#d69000" stroke-width="0.65" stroke-opacity="0.9"/>
<circle cx="423.4" cy="218.9" r="1.25" fill="#d69000"/>
<circle cx="479.7" cy="218.6" r="1.25" fill="#d69000"/>
<circle cx="536.2" cy="217.6" r="1.25" fill="#d69000"/>
<circle cx="592.7" cy="214.8" r="1.25" fill="#d69000"/>
<circle cx="648.9" cy="188.7" r="1.25" fill="#d69000"/>
<polyline points="423.4,206.6 479.7,215.9 536.2,211.0 592.7,208.3 648.9,205.4" fill="none" stroke="#4bb400" stroke-width="0.65" stroke-opacity="0.9"/>
<circle cx="423.4" cy="206.6" r="1.25" fill="#4bb400"/>
<circle cx="479.7" cy="215.9" r="1.25" fill="#4bb400"/>
<circle cx="536.2" cy="211.0" r="1.25" fill="#4bb400"/>
<circle cx="592.7" cy="208.3" r="1.25" fill="#4bb400"/>
<circle cx="648.9" cy="205.4" r="1.25" fill="#4bb400"/>
<polyline points="423.4,240.3 479.7,244.3 536.2,239.2 592.7,234.2 648.9,195.3" fill="none" stroke="#d49200" stroke-width="0.65" stroke-opacity="0.9"/>
<circle cx="423.4" cy="240.3" r="1.25" fill="#d49200"/>
<circle cx="479.7" cy="244.3" r="1.25" fill="#d49200"/>
<circle cx="536.2" cy="239.2" r="1.25" fill="#d49200"/>
<circle cx="592.7" cy="234.2" r="1.25" fill="#d49200"/>
<circle cx="648.9" cy="195.3" r="1.25" fill="#d49200"/>
<polyline points="423.4,234.8 479.7,229.0 536.2,232.4 592.7,235.2 648.9,200.7" fill="none" stroke="#b59f00" stroke-width="0.65" stroke-opacity="0.9"/>
<circle cx="423.4" cy="234.8" r="1.25" fill="#b59f00"/>
<circle cx="479.7" cy="229.0" r="1.25" fill="#b59f00"/>
<circle cx="536.2" cy="232.4" r="1.25" fill="#b59f00"/>
<circle cx="592.7" cy="235.2" r="1.25" fill="#b59f00"/>
<circle cx="648.9" cy="200.7" r="1.25" fill="#b59f00"/>
<polyline points="423.4,219.4 479.7,216.9 536.2,218.0 592.7,223.5 648.9,140.9" fill="none" stroke="#64b200" stroke-width="0.65" stroke-opacity="0.9"/>
<circle cx="423.4" cy="219.4" r="1.25" fill="#64b200"/>
<circle cx="479.7" cy="216.9" r="1.25" fill="#64b200"/>
<circle cx="536.2" cy="218.0" r="1.25" fill="#64b200"/>
<circle cx="592.7" cy="223.5" r="1.25" fill="#64b200"/>
<circle cx="648.9" cy="140.9" r="1.25" fill="#64b200"/>
<polyline points="423.4,249.2 479.7,237.0 536.2,242.2 592.7,241.1 648.9,149.4" fill="none" stroke="#b2a100" stroke-width="0.65" stroke-opacity="0.9"/>
<circle cx="423.4" cy="249.2" r="1.25" fill="#b2a100"/>
<circle cx="479.7" cy="237.0" r="1.25" fill="#b2a100"/>
<circle cx="536.2" cy="242.2" r="1.25" fill="#b2a100"/>
<circle cx="592.7" cy="241.1" r="1.25" fill="#b2a100"/>
<circle cx="648.9" cy="149.4" r="1.25" fill="#b2a100"/>
<polyline points="423.4,236.7 479.7,233.9 536.2,234.9 592.7,233.1 648.9,208.6" fill="none" stroke="#96a900" stroke-width="0.65" stroke-opacity="0.9"/>
<circle cx="423.4" cy="236.7" r="1.25" fill="#96a900"/>
<circle cx="479.7" cy="233.9" r="1.25" fill="#96a900"/>
<circle cx="536.2" cy="234.9" r="1.25" fill="#96a900"/>
<circle cx="592.7" cy="233.1" r="1.25" fill="#96a900"/>
<circle cx="648.9" cy="208.6" r="1.25" fill="#96a900"/>
<polyline points="423.4,247.2 479.7,239.8 536.2,240.5 592.7,239.0 648.9,179.3" fill="none" stroke="#ed813d" stroke-width="0.65" stroke-opacity="0.9"/>
<circle cx="423.4" cy="247.2" r="1.25" fill="#ed813d"/>
<circle cx="479.7" cy="239.8" r="1.25" fill="#ed813d"/>
<circle cx="536.2" cy="240.5" r="1.25" fill="#ed813d"/>
<circle cx="592.7" cy="239.0" r="1.25" fill="#ed813d"/>
<circle cx="648.9" cy="179.3" r="1.25" fill="#ed813d"/>
<polyline points="423.4,251.0 479.7,239.4 536.2,237.9 592.7,241.2 648.9,235.4" fill="none" stroke="#6bb100" stroke-width="0.65" stroke-opacity="0.9"/>
<circle cx="423.4" cy="251.0" r="1.25" fill="#6bb100"/>
<circle cx="479.7" cy="239.4" r="1.25" fill="#6bb100"/>
<circle cx="536.2" cy="237.9" r="1.25" fill="#6bb100"/>
<circle cx="592.7" cy="241.2" r="1.25" fill="#6bb100"/>
<circle cx="648.9" cy="235.4" r="1.25" fill="#6bb100"/>
<polyline points="423.4,217.0 479.7,218.9 536.2,223.4 592.7,205.2 648.9,208.4" fill="none" stroke="#00bc56" stroke-width="0.65" stroke-opacity="0.9"/>
<circle cx="423.4" cy="217.0" r="1.25" fill="#00bc56"/>
<circle cx="479.7" cy="218.9" r="1.25" fill="#00bc56"/>
<circle cx="536.2" cy="223.4" r="1.25" fill="#00bc56"/>
<circle cx="592.7" cy="205.2" r="1.25" fill="#00bc56"/>
<circle cx="648.9" cy="208.4" r="1.25" fill="#00bc56"/>
<polyline points="423.4,208.1 479.7,210.3 536.2,211.1 592.7,215.6 648.9,219.4" fill="none" stroke="#71b000" stroke-width="0.65" stroke-opacity="0.9"/>
<circle cx="423.4" cy="208.1" r="1.25" fill="#71b000"/>
<circle cx="479.7" cy="210.3" r="1.25" fill="#71b000"/>
<circle cx="536.2" cy="211.1" r="1.25" fill="#71b000"/>
<circle cx="592.7" cy="215.6" r="1.25" fill="#71b000"/>
<circle cx="648.9" cy="219.4" r="1.25" fill="#71b000"/>
<polyline points="423.4,231.1 479.7,218.1 536.2,227.0 592.7,225.3 648.9,200.2" fill="none" stroke="#00bb48" stroke-width="0.65" stroke-opacity="0.9"/>
<circle cx="423.4" cy="231.1" r="1.25" fill="#00bb48"/>
<circle cx="479.7" cy="218.1" r="1.25" fill="#00bb48"/>
<circle cx="536.2" cy="227.0" r="1.25" fill="#00bb48"/>
<circle cx="592.7" cy="225.3" r="1.25" fill="#00bb48"/>
<circle cx="648.9" cy="200.2" r="1.25" fill="#00bb48"/>
<polyline points="423.4,240.7 479.7,238.7 536.2,229.1 592.7,228.2 648.9,200.6" fill="none" stroke="#00be68" stroke-width="0.65" stroke-opacity="0.9"/>
<circle cx="423.4" cy="240.7" r="1.25" fill="#00be68"/>
<circle cx="479.7" cy="238.7" r="1.25" fill="#00be68"/>
<circle cx="536.2" cy="229.1" r="1.25" fill="#00be68"/>
<circle cx="592.7" cy="228.2" r="1.25" fill="#00be68"/>
<circle cx="648.9" cy="200.6" r="1.25" fill="#00be68"/>
<polyline points="423.4,232.8 479.7,235.4 536.2,223.7 592.7,217.7 648.9,164.4" fill="none" stroke="#a7a400" stroke-width="0.65" stroke-opacity="0.9"/>
<circle cx="423.4" cy="232.8" r="1.25" fill="#a7a400"/>
<circle cx="479.7" cy="235.4" r="1.25" fill="#a7a400"/>
<circle cx="536.2" cy="223.7" r="1.25" fill="#a7a400"/>
<circle cx="592.7" cy="217.7" r="1.25" fill="#a7a400"/>
<circle cx="648.9" cy="164.4" r="1.25" fill="#a7a400"/>
<polyline points="423.4,243.4 479.7,246.2 536.2,246.4 592.7,242.5 648.9,164.2" fill="none" stroke="#e28900" stroke-width="0.65" stroke-opacity="0.9"/>
<circle cx="423.4" cy="243.4" r="1.25" fill="#e28900"/>
<circle cx="479.7" cy="246.2" r="1.25" fill="#e28900"/>
<circle cx="536.2" cy="246.4" r="1.25" fill="#e28900"/>
<circle cx="592.7" cy="242.5" r="1.25" fill="#e28900"/>
<circle cx="648.9" cy="164.2" r="1.25" fill="#e28900"/>
<polyline points="423.4,244.0 479.7,239.5 536.2,245.3 592.7,246.7 648.9,166.2" fill="none" stroke="#00bf7d" stroke-width="0.65" stroke-opacity="0.9"/>
<circle cx="423.4" cy="244.0" r="1.25" fill="#00bf7d"/>
<circle cx="479.7" cy="239.5" r="1.25" fill="#00bf7d"/>
<circle cx="536.2" cy="245.3" r="1.25" fill="#00bf7d"/>
<circle cx="592.7" cy="246.7" r="1.25" fill="#00bf7d"/>
<circle cx="648.9" cy="166.2" r="1.25" fill="#00bf7d"/>
<polyline points="423.4,231.3 479.7,242.3 536.2,229.3 592.7,231.7 648.9,225.0" fill="none" stroke="#f8766d" stroke-width="0.65" stroke-opacity="0.9"/>
<circle cx="423.4" cy="231.3" r="1.25" fill="#f8766d"/>
<circle cx="479.7" cy="242.3" r="1.25" fill="#f8766d"/>
<circle cx="536.2" cy="229.3" r="1.25" fill="#f8766d"/>
<circle cx="592.7" cy="231.7" r="1.25" fill="#f8766d"/>
<circle cx="648.9" cy="225.0" r="1.25" fill="#f8766d"/>
<polyline points="423.4,216.3 479.7,220.6 536.2,225.4 592.7,213.5 648.9,202.1" fill="none" stroke="#00c082" stroke-width="0.65" stroke-opacity="0.9"/>
<circle cx="423.4" cy="216.3" r="1.25" fill="#00c082"/>
<circle cx="479.7" cy="220.6" r="1.25" fill="#00c082"/>
<circle cx="536.2" cy="225.4" r="1.25" fill="#00c082"/>
<circle cx="592.7" cy="213.5" r="1.25" fill="#00c082"/>
<circle cx="648.9" cy="202.1" r="1.25" fill="#00c082"/>
<polyline points="423.4,238.1 479.7,238.1 536.2,235.8 592.7,222.8 648.9,228.2" fill="none" stroke="#7dae00" stroke-width="0.65" stroke-opacity="0.9"/>
<circle cx="423.4" cy="238.1" r="1.25" fill="#7dae00"/>
<circle cx="479.7" cy="238.1" r="1.25" fill="#7dae00"/>
<circle cx="536.2" cy="235.8" r="1.25" fill="#7dae00"/>
<circle cx="592.7" cy="222.8" r="1.25" fill="#7dae00"/>
<circle cx="648.9" cy="228.2" r="1.25" fill="#7dae00"/>
<polyline points="423.4,248.7 479.7,250.4 536.2,251.9 592.7,246.4 648.9,147.5" fill="none" stroke="#de8c00" stroke-width="0.65" stroke-opacity="0.9"/>
<circle cx="423.4" cy="248.7" r="1.25" fill="#de8c00"/>
<circle cx="479.7" cy="250.4" r="1.25" fill="#de8c00"/>
<circle cx="536.2" cy="251.9" r="1.25" fill="#de8c00"/>
<circle cx="592.7" cy="246.4" r="1.25" fill="#de8c00"/>
<circle cx="648.9" cy="147.5" r="1.25" fill="#de8c00"/>
<polyline points="423.4,248.4 479.7,252.3 536.2,246.9 592.7,243.6 648.9,253.0" fill="none" stroke="#5cb300" stroke-width="0.65" stroke-opacity="0.9"/>
<circle cx="423.4" cy="248.4" r="1.25" fill="#5cb300"/>
<circle cx="479.7" cy="252.3" r="1.25" fill="#5cb300"/>
<circle cx="536.2" cy="246.9" r="1.25" fill="#5cb300"/>
<circle cx="592.7" cy="243.6" r="1.25" fill="#5cb300"/>
<circle cx="648.9" cy="253.0" r="1.25" fill="#5cb300"/>
<polyline points="423.4,212.3 479.7,215.1 536.2,214.4 592.7,211.3 648.9,179.8" fill="none" stroke="#db8e00" stroke-width="0.65" stroke-opacity="0.9"/>
<circle cx="423.4" cy="212.3" r="1.25" fill="#db8e00"/>
<circle cx="479.7" cy="215.1" r="1.25" fill="#db8e00"/>
<circle cx="536.2" cy="214.4" r="1.25" fill="#db8e00"/>
<circle cx="592.7" cy="211.3" r="1.25" fill="#db8e00"/>
<circle cx="648.9" cy="179.8" r="1.25" fill="#db8e00"/>
<polyline points="423.4,244.4 479.7,240.3 536.2,243.3 592.7,243.1 648.9,225.1" fill="none" stroke="#77af00" stroke-width="0.65" stroke-opacity="0.9"/>
<circle cx="423.4" cy="244.4" r="1.25" fill="#77af00"/>
<circle cx="479.7" cy="240.3" r="1.25" fill="#77af00"/>
<circle cx="536.2" cy="243.3" r="1.25" fill="#77af00"/>
<circle cx="592.7" cy="243.1" r="1.25" fill="#77af00"/>
<circle cx="648.9" cy="225.1" r="1.25" fill="#77af00"/>
<polyline points="423.4,251.3 479.7,241.7 536.2,247.9 592.7,239.2 648.9,213.0" fill="none" stroke="#e98428" stroke-width="0.65" stroke-opacity="0.9"/>
<circle cx="423.4" cy="251.3" r="1.25" fill="#e98428"/>
<circle cx="479.7" cy="241.7" r="1.25" fill="#e98428"/>
<circle cx="536.2" cy="247.9" r="1.25" fill="#e98428"/>
<circle cx="592.7" cy="239.2" r="1.25" fill="#e98428"/>
<circle cx="648.9" cy="213.0" r="1.25" fill="#e98428"/>
<polyline points="423.4,223.9 479.7,233.7 536.2,222.8 592.7,225.3 648.9,210.2" fill="none" stroke="#00bfc3" stroke-width="0.65" stroke-opacity="0.9"/>
<circle cx="423.4" cy="223.9" r="1.25" fill="#00bfc3"/>
<circle cx="479.7" cy="233.7" r="1.25" fill="#00bfc3"/>
<circle cx="536.2" cy="222.8" r="1.25" fill="#00bfc3"/>
<circle cx="592.7" cy="225.3" r="1.25" fill="#00bfc3"/>
<circle cx="648.9" cy="210.2" r="1.25" fill="#00bfc3"/>
<polyline points="423.4,217.3 479.7,221.4 536.2,213.0 592.7,207.4 648.9,221.7" fill="none" stroke="#f67867" stroke-width="0.65" stroke-opacity="0.9"/>
<circle cx="423.4" cy="217.3" r="1.25" fill="#f67867"/>
<circle cx="479.7" cy="221.4" r="1.25" fill="#f67867"/>
<circle cx="536.2" cy="213.0" r="1.25" fill="#f67867"/>
<circle cx="592.7" cy="207.4" r="1.25" fill="#f67867"/>
<circle cx="648.9" cy="221.7" r="1.25" fill="#f67867"/>
<polyline points="423.4,213.7 479.7,218.8 536.2,210.2 592.7,208.6 648.9,209.5" fill="none" stroke="#1fb700" stroke-width="0.65" stroke-opacity="0.9"/>
<circle cx="423.4" cy="213.7" r="1.25" fill="#1fb700"/>
<circle cx="479.7" cy="218.8" r="1.25" fill="#1fb700"/>
<circle cx="536.2" cy="210.2" r="1.25" fill="#1fb700"/>
<circle cx="592.7" cy="208.6" r="1.25" fill="#1fb700"/>
<circle cx="648.9" cy="209.5" r="1.25" fill="#1fb700"/>
<polyline points="423.4,252.7 479.7,247.5 536.2,248.5 592.7,246.5 648.9,150.3" fill="none" stroke="#00c087" stroke-width="0.65" stroke-opacity="0.9"/>
<circle cx="423.4" cy="252.7" r="1.25" fill="#00c087"/>
<circle cx="479.7" cy="247.5" r="1.25" fill="#00c087"/>
<circle cx="536.2" cy="248.5" r="1.25" fill="#00c087"/>
<circle cx="592.7" cy="246.5" r="1.25" fill="#00c087"/>
<circle cx="648.9" cy="150.3" r="1.25" fill="#00c087"/>
<polyline points="423.4,219.9 479.7,228.1 536.2,216.7 592.7,219.4 648.9,204.4" fill="none" stroke="#32b600" stroke-width="0.65" stroke-opacity="0.9"/>
<circle cx="423.4" cy="219.9" r="1.25" fill="#32b600"/>
<circle cx="479.7" cy="228.1" r="1.25" fill="#32b600"/>
<circle cx="536.2" cy="216.7" r="1.25" fill="#32b600"/>
<circle cx="592.7" cy="219.4" r="1.25" fill="#32b600"/>
<circle cx="648.9" cy="204.4" r="1.25" fill="#32b600"/>
<polyline points="423.4,221.4 479.7,225.9 536.2,224.4 592.7,214.9 648.9,204.0" fill="none" stroke="#f27d54" stroke-width="0.65" stroke-opacity="0.9"/>
<circle cx="423.4" cy="221.4" r="1.25" fill="#f27d54"/>
<circle cx="479.7" cy="225.9" r="1.25" fill="#f27d54"/>
<circle cx="536.2" cy="224.4" r="1.25" fill="#f27d54"/>
<circle cx="592.7" cy="214.9" r="1.25" fill="#f27d54"/>
<circle cx="648.9" cy="204.0" r="1.25" fill="#f27d54"/>
<polyline points="423.4,214.3 479.7,208.9 536.2,209.5 592.7,212.0 648.9,205.2" fill="none" stroke="#00b92f" stroke-width="0.65" stroke-opacity="0.9"/>
<circle cx="423.4" cy="214.3" r="1.25" fill="#00b92f"/>
<circle cx="479.7" cy="208.9" r="1.25" fill="#00b92f"/>
<circle cx="536.2" cy="209.5" r="1.25" fill="#00b92f"/>
<circle cx="592.7" cy="212.0" r="1.25" fill="#00b92f"/>
<circle cx="648.9" cy="205.2" r="1.25" fill="#00b92f"/>
<polyline points="423.4,245.0 479.7,245.0 536.2,248.5 592.7,250.1 648.9,209.6" fill="none" stroke="#00c0b3" stroke-width="0.65" stroke-opacity="0.9"/>
<circle cx="423.4" cy="245.0" r="1.25" fill="#00c0b3"/>
<circle cx="479.7" cy="245.0" r="1.25" fill="#00c0b3"/>
<circle cx="536.2" cy="248.5" r="1.25" fill="#00c0b3"/>
<circle cx="592.7" cy="250.1" r="1.25" fill="#00c0b3"/>
<circle cx="648.9" cy="209.6" r="1.25" fill="#00c0b3"/>
<polyline points="423.4,252.1 479.7,249.2 536.2,237.6 592.7,245.3 648.9,192.5" fill="none" stroke="#00c091" stroke-width="0.65" stroke-opacity="0.9"/>
<circle cx="423.4" cy="252.1" r="1.25" fill="#00c091"/>
<circle cx="479.7" cy="249.2" r="1.25" fill="#00c091"/>
<circle cx="536.2" cy="237.6" r="1.25" fill="#00c091"/>
<circle cx="592.7" cy="245.3" r="1.25" fill="#00c091"/>
<circle cx="648.9" cy="192.5" r="1.25" fill="#00c091"/>
<polyline points="423.4,215.9 479.7,219.7 536.2,213.7 592.7,209.1 648.9,188.5" fill="none" stroke="#f57961" stroke-width="0.65" stroke-opacity="0.9"/>
<circle cx="423.4" cy="215.9" r="1.25" fill="#f57961"/>
<circle cx="479.7" cy="219.7" r="1.25" fill="#f57961"/>
<circle cx="536.2" cy="213.7" r="1.25" fill="#f57961"/>
<circle cx="592.7" cy="209.1" r="1.25" fill="#f57961"/>
<circle cx="648.9" cy="188.5" r="1.25" fill="#f57961"/>
<polyline points="423.4,248.9 479.7,247.2 536.2,249.1 592.7,247.8 648.9,188.9" fill="none" stroke="#00beca" stroke-width="0.65" stroke-opacity="0.9"/>
<circle cx="423.4" cy="248.9" r="1.25" fill="#00beca"/>
<circle cx="479.7" cy="247.2" r="1.25" fill="#00beca"/>
<circle cx="536.2" cy="249.1" r="1.25" fill="#00beca"/>
<circle cx="592.7" cy="247.8" r="1.25" fill="#00beca"/>
<circle cx="648.9" cy="188.9" r="1.25" fill="#00beca"/>
<polyline points="423.4,232.4 479.7,231.2 536.2,226.5 592.7,230.1 648.9,186.0" fill="none" stroke="#c39a00" stroke-width="0.65" stroke-opacity="0.9"/>
<circle cx="423.4" cy="232.4" r="1.25" fill="#c39a00"/>
<circle cx="479.7" cy="231.2" r="1.25" fill="#c39a00"/>
<circle cx="536.2" cy="226.5" r="1.25" fill="#c39a00"/>
<circle cx="592.7" cy="230.1" r="1.25" fill="#c39a00"/>
<circle cx="648.9" cy="186.0" r="1.25" fill="#c39a00"/>
<polyline points="423.4,243.0 479.7,239.3 536.2,245.6 592.7,243.1 648.9,253.6" fill="none" stroke="#9fa700" stroke-width="0.65" stroke-opacity="0.9"/>
<circle cx="423.4" cy="243.0" r="1.25" fill="#9fa700"/>
<circle cx="479.7" cy="239.3" r="1.25" fill="#9fa700"/>
<circle cx="536.2" cy="245.6" r="1.25" fill="#9fa700"/>
<circle cx="592.7" cy="243.1" r="1.25" fill="#9fa700"/>
<circle cx="648.9" cy="253.6" r="1.25" fill="#9fa700"/>
<polyline points="423.4,224.7 479.7,216.9 536.2,219.6 592.7,218.0 648.9,138.6" fill="none" stroke="#00b6ea" stroke-width="0.65" stroke-opacity="0.9"/>
<circle cx="423.4" cy="224.7" r="1.25" fill="#00b6ea"/>
<circle cx="479.7" cy="216.9" r="1.25" fill="#00b6ea"/>
<circle cx="536.2" cy="219.6" r="1.25" fill="#00b6ea"/>
<circle cx="592.7" cy="218.0" r="1.25" fill="#00b6ea"/>
<circle cx="648.9" cy="138.6" r="1.25" fill="#00b6ea"/>
<polyline points="423.4,245.2 479.7,239.3 536.2,243.6 592.7,238.6 648.9,255.0" fill="none" stroke="#00b0f6" stroke-width="0.65" stroke-opacity="0.9"/>
<circle cx="423.4" cy="245.2" r="1.25" fill="#00b0f6"/>
<circle cx="479.7" cy="239.3" r="1.25" fill="#00b0f6"/>
<circle cx="536.2" cy="243.6" r="1.25" fill="#00b0f6"/>
<circle cx="592.7" cy="238.6" r="1.25" fill="#00b0f6"/>
<circle cx="648.9" cy="255.0" r="1.25" fill="#00b0f6"/>
<polyline points="423.4,221.3 479.7,221.9 536.2,222.1 592.7,222.9 648.9,252.7" fill="none" stroke="#00be73" stroke-width="0.65" stroke-opacity="0.9"/>
<circle cx="423.4" cy="221.3" r="1.25" fill="#00be73"/>
<circle cx="479.7" cy="221.9" r="1.25" fill="#00be73"/>
<circle cx="536.2" cy="222.1" r="1.25" fill="#00be73"/>
<circle cx="592.7" cy="222.9" r="1.25" fill="#00be73"/>
<circle cx="648.9" cy="252.7" r="1.25" fill="#00be73"/>
<polyline points="423.4,227.7 479.7,221.8 536.2,219.1 592.7,215.1 648.9,156.2" fill="none" stroke="#ce9500" stroke-width="0.65" stroke-opacity="0.9"/>
<circle cx="423.4" cy="227.7" r="1.25" fill="#ce9500"/>
<circle cx="479.7" cy="221.8" r="1.25" fill="#ce9500"/>
<circle cx="536.2" cy="219.1" r="1.25" fill="#ce9500"/>
<circle cx="592.7" cy="215.1" r="1.25" fill="#ce9500"/>
<circle cx="648.9" cy="156.2" r="1.25" fill="#ce9500"/>
<polyline points="423.4,243.9 479.7,244.0 536.2,240.6 592.7,233.5 648.9,273.2" fill="none" stroke="#00b822" stroke-width="0.65" stroke-opacity="0.9"/>
<circle cx="423.4" cy="243.9" r="1.25" fill="#00b822"/>
<circle cx="479.7" cy="244.0" r="1.25" fill="#00b822"/>
<circle cx="536.2" cy="240.6" r="1.25" fill="#00b822"/>
<circle cx="592.7" cy="233.5" r="1.25" fill="#00b822"/>
<circle cx="648.9" cy="273.2" r="1.25" fill="#00b822"/>
<polyline points="423.4,220.8 479.7,212.8 536.2,214.3 592.7,205.3 648.9,233.4" fill="none" stroke="#00ba38" stroke-width="0.65" stroke-opacity="0.9"/>
<circle cx="423.4" cy="220.8" r="1.25" fill="#00ba38"/>
<circle cx="479.7" cy="212.8" r="1.25" fill="#00ba38"/>
<circle cx="536.2" cy="214.3" r="1.25" fill="#00ba38"/>
<circle cx="592.7" cy="205.3" r="1.25" fill="#00ba38"/>
<circle cx="648.9" cy="233.4" r="1.25" fill="#00ba38"/>
<polyline points="423.4,216.2 479.7,216.6 536.2,212.5 592.7,213.5 648.9,203.0" fill="none" stroke="#f07e4d" stroke-width="0.65" stroke-opacity="0.9"/>
<circle cx="423.4" cy="216.2" r="1.25" fill="#f07e4d"/>
<circle cx="479.7" cy="216.6" r="1.25" fill="#f07e4d"/>
<circle cx="536.2" cy="212.5" r="1.25" fill="#f07e4d"/>
<circle cx="592.7" cy="213.5" r="1.25" fill="#f07e4d"/>
<circle cx="648.9" cy="203.0" r="1.25" fill="#f07e4d"/>
<polyline points="423.4,244.6 479.7,254.5 536.2,250.2 592.7,252.3 648.9,249.3" fill="none" stroke="#f47b5b" stroke-width="0.65" stroke-opacity="0.9"/>
<circle cx="423.4" cy="244.6" r="1.25" fill="#f47b5b"/>
<circle cx="479.7" cy="254.5" r="1.25" fill="#f47b5b"/>
<circle cx="536.2" cy="250.2" r="1.25" fill="#f47b5b"/>
<circle cx="592.7" cy="252.3" r="1.25" fill="#f47b5b"/>
<circle cx="648.9" cy="249.3" r="1.25" fill="#f47b5b"/>
<polyline points="423.4,255.3 479.7,258.0 536.2,248.7 592.7,252.7 648.9,264.3" fill="none" stroke="#00b5ed" stroke-width="0.65" stroke-opacity="0.9"/>
<circle cx="423.4" cy="255.3" r="1.25" fill="#00b5ed"/>
<circle cx="479.7" cy="258.0" r="1.25" fill="#00b5ed"/>
<circle cx="536.2" cy="248.7" r="1.25" fill="#00b5ed"/>
<circle cx="592.7" cy="252.7" r="1.25" fill="#00b5ed"/>
<circle cx="648.9" cy="264.3" r="1.25" fill="#00b5ed"/>
<polyline points="423.4,219.3 479.7,223.3 536.2,214.6 592.7,215.8 648.9,197.4" fill="none" stroke="#9aa800" stroke-width="0.65" stroke-opacity="0.9"/>
<circle cx="423.4" cy="219.3" r="1.25" fill="#9aa800"/>
<circle cx="479.7" cy="223.3" r="1.25" fill="#9aa800"/>
<circle cx="536.2" cy="214.6" r="1.25" fill="#9aa800"/>
<circle cx="592.7" cy="215.8" r="1.25" fill="#9aa800"/>
<circle cx="648.9" cy="197.4" r="1.25" fill="#9aa800"/>
<polyline points="423.4,235.6 479.7,240.6 536.2,239.2 592.7,230.9 648.9,178.9" fill="none" stroke="#00b7e7" stroke-width="0.65" stroke-opacity="0.9"/>
<circle cx="423.4" cy="235.6" r="1.25" fill="#00b7e7"/>
<circle cx="479.7" cy="240.6" r="1.25" fill="#00b7e7"/>
<circle cx="536.2" cy="239.2" r="1.25" fill="#00b7e7"/>
<circle cx="592.7" cy="230.9" r="1.25" fill="#00b7e7"/>
<circle cx="648.9" cy="178.9" r="1.25" fill="#00b7e7"/>
<polyline points="423.4,232.7 479.7,229.7 536.2,221.3 592.7,223.7 648.9,214.6" fill="none" stroke="#00c1a2" stroke-width="0.65" stroke-opacity="0.9"/>
<circle cx="423.4" cy="232.7" r="1.25" fill="#00c1a2"/>
<circle cx="479.7" cy="229.7" r="1.25" fill="#00c1a2"/>
<circle cx="536.2" cy="221.3" r="1.25" fill="#00c1a2"/>
<circle cx="592.7" cy="223.7" r="1.25" fill="#00c1a2"/>
<circle cx="648.9" cy="214.6" r="1.25" fill="#00c1a2"/>
<polyline points="423.4,233.3 479.7,222.6 536.2,216.4 592.7,214.8 648.9,177.5" fill="none" stroke="#619cff" stroke-width="0.65" stroke-opacity="0.9"/>
<circle cx="423.4" cy="233.3" r="1.25" fill="#619cff"/>
<circle cx="479.7" cy="222.6" r="1.25" fill="#619cff"/>
<circle cx="536.2" cy="216.4" r="1.25" fill="#619cff"/>
<circle cx="592.7" cy="214.8" r="1.25" fill="#619cff"/>
<circle cx="648.9" cy="177.5" r="1.25" fill="#619cff"/>
<polyline points="423.4,220.5 479.7,217.5 536.2,209.1 592.7,211.9 648.9,233.4" fill="none" stroke="#e78619" stroke-width="0.65" stroke-opacity="0.9"/>
<circle cx="423.4" cy="220.5" r="1.25" fill="#e78619"/>
<circle cx="479.7" cy="217.5" r="1.25" fill="#e78619"/>
<circle cx="536.2" cy="209.1" r="1.25" fill="#e78619"/>
<circle cx="592.7" cy="211.9" r="1.25" fill="#e78619"/>
<circle cx="648.9" cy="233.4" r="1.25" fill="#e78619"/>
<polyline points="423.4,227.1 479.7,213.0 536.2,217.1 592.7,214.1 648.9,162.0" fill="none" stroke="#c99800" stroke-width="0.65" stroke-opacity="0.9"/>
<circle cx="423.4" cy="227.1" r="1.25" fill="#c99800"/>
<circle cx="479.7" cy="213.0" r="1.25" fill="#c99800"/>
<circle cx="536.2" cy="217.1" r="1.25" fill="#c99800"/>
<circle cx="592.7" cy="214.1" r="1.25" fill="#c99800"/>
<circle cx="648.9" cy="162.0" r="1.25" fill="#c99800"/>
<polyline points="423.4,244.6 479.7,249.8 536.2,251.6 592.7,244.1 648.9,188.6" fill="none" stroke="#44a0ff" stroke-width="0.65" stroke-opacity="0.9"/>
<circle cx="423.4" cy="244.6" r="1.25" fill="#44a0ff"/>
<circle cx="479.7" cy="249.8" r="1.25" fill="#44a0ff"/>
<circle cx="536.2" cy="251.6" r="1.25" fill="#44a0ff"/>
<circle cx="592.7" cy="244.1" r="1.25" fill="#44a0ff"/>
<circle cx="648.9" cy="188.6" r="1.25" fill="#44a0ff"/>
<polyline points="423.4,217.8 479.7,223.5 536.2,220.6 592.7,218.1 648.9,175.7" fill="none" stroke="#00c1a7" stroke-width="0.65" stroke-opacity="0.9"/>
<circle cx="423.4" cy="217.8" r="1.25" fill="#00c1a7"/>
<circle cx="479.7" cy="223.5" r="1.25" fill="#00c1a7"/>
<circle cx="536.2" cy="220.6" r="1.25" fill="#00c1a7"/>
<circle cx="592.7" cy="218.1" r="1.25" fill="#00c1a7"/>
<circle cx="648.9" cy="175.7" r="1.25" fill="#00c1a7"/>
<polyline points="423.4,216.4 479.7,217.6 536.2,205.0 592.7,211.9 648.9,163.5" fill="none" stroke="#00b1f4" stroke-width="0.65" stroke-opacity="0.9"/>
<circle cx="423.4" cy="216.4" r="1.25" fill="#00b1f4"/>
<circle cx="479.7" cy="217.6" r="1.25" fill="#00b1f4"/>
<circle cx="536.2" cy="205.0" r="1.25" fill="#00b1f4"/>
<circle cx="592.7" cy="211.9" r="1.25" fill="#00b1f4"/>
<circle cx="648.9" cy="163.5" r="1.25" fill="#00b1f4"/>
<polyline points="423.4,264.6 479.7,270.0 536.2,261.8 592.7,258.2 648.9,255.4" fill="none" stroke="#54b400" stroke-width="0.65" stroke-opacity="0.9"/>
<circle cx="423.4" cy="264.6" r="1.25" fill="#54b400"/>
<circle cx="479.7" cy="270.0" r="1.25" fill="#54b400"/>
<circle cx="536.2" cy="261.8" r="1.25" fill="#54b400"/>
<circle cx="592.7" cy="258.2" r="1.25" fill="#54b400"/>
<circle cx="648.9" cy="255.4" r="1.25" fill="#54b400"/>
<polyline points="423.4,249.4 479.7,249.3 536.2,243.9 592.7,239.9 648.9,213.1" fill="none" stroke="#eb8334" stroke-width="0.65" stroke-opacity="0.9"/>
<circle cx="423.4" cy="249.4" r="1.25" fill="#eb8334"/>
<circle cx="479.7" cy="249.3" r="1.25" fill="#eb8334"/>
<circle cx="536.2" cy="243.9" r="1.25" fill="#eb8334"/>
<circle cx="592.7" cy="239.9" r="1.25" fill="#eb8334"/>
<circle cx="648.9" cy="213.1" r="1.25" fill="#eb8334"/>
<polyline points="423.4,237.7 479.7,244.2 536.2,240.6 592.7,234.6 648.9,246.3" fill="none" stroke="#8dab00" stroke-width="0.65" stroke-opacity="0.9"/>
<circle cx="423.4" cy="237.7" r="1.25" fill="#8dab00"/>
<circle cx="479.7" cy="244.2" r="1.25" fill="#8dab00"/>
<circle cx="536.2" cy="240.6" r="1.25" fill="#8dab00"/>
<circle cx="592.7" cy="234.6" r="1.25" fill="#8dab00"/>
<circle cx="648.9" cy="246.3" r="1.25" fill="#8dab00"/>
<polyline points="423.4,235.4 479.7,236.2 536.2,238.3 592.7,241.7 648.9,186.1" fill="none" stroke="#00becd" stroke-width="0.65" stroke-opacity="0.9"/>
<circle cx="423.4" cy="235.4" r="1.25" fill="#00becd"/>
<circle cx="479.7" cy="236.2" r="1.25" fill="#00becd"/>
<circle cx="536.2" cy="238.3" r="1.25" fill="#00becd"/>
<circle cx="592.7" cy="241.7" r="1.25" fill="#00becd"/>
<circle cx="648.9" cy="186.1" r="1.25" fill="#00becd"/>
<polyline points="423.4,220.6 479.7,226.4 536.2,227.0 592.7,221.2 648.9,166.3" fill="none" stroke="#d19300" stroke-width="0.65" stroke-opacity="0.9"/>
<circle cx="423.4" cy="220.6" r="1.25" fill="#d19300"/>
<circle cx="479.7" cy="226.4" r="1.25" fill="#d19300"/>
<circle cx="536.2" cy="227.0" r="1.25" fill="#d19300"/>
<circle cx="592.7" cy="221.2" r="1.25" fill="#d19300"/>
<circle cx="648.9" cy="166.3" r="1.25" fill="#d19300"/>
<polyline points="423.4,248.9 479.7,244.3 536.2,247.6 592.7,244.4 648.9,221.1" fill="none" stroke="#00b9e1" stroke-width="0.65" stroke-opacity="0.9"/>
<circle cx="423.4" cy="248.9" r="1.25" fill="#00b9e1"/>
<circle cx="479.7" cy="244.3" r="1.25" fill="#00b9e1"/>
<circle cx="536.2" cy="247.6" r="1.25" fill="#00b9e1"/>
<circle cx="592.7" cy="244.4" r="1.25" fill="#00b9e1"/>
<circle cx="648.9" cy="221.1" r="1.25" fill="#00b9e1"/>
<polyline points="423.4,225.8 479.7,229.7 536.2,221.3 592.7,220.5 648.9,201.0" fill="none" stroke="#00bcd8" stroke-width="0.65" stroke-opacity="0.9"/>
<circle cx="423.4" cy="225.8" r="1.25" fill="#00bcd8"/>
<circle cx="479.7" cy="229.7" r="1.25" fill="#00bcd8"/>
<circle cx="536.2" cy="221.3" r="1.25" fill="#00bcd8"/>
<circle cx="592.7" cy="220.5" r="1.25" fill="#00bcd8"/>
<circle cx="648.9" cy="201.0" r="1.25" fill="#00bcd8"/>
<polyline points="423.4,244.1 479.7,251.2 536.2,243.7 592.7,243.6 648.9,228.6" fill="none" stroke="#40b500" stroke-width="0.65" stroke-opacity="0.9"/>
<circle cx="423.4" cy="244.1" r="1.25" fill="#40b500"/>
<circle cx="479.7" cy="251.2" r="1.25" fill="#40b500"/>
<circle cx="536.2" cy="243.7" r="1.25" fill="#40b500"/>
<circle cx="592.7" cy="243.6" r="1.25" fill="#40b500"/>
<circle cx="648.9" cy="228.6" r="1.25" fill="#40b500"/>
<polyline points="423.4,205.8 479.7,215.1 536.2,206.4 592.7,207.9 648.9,251.3" fill="none" stroke="#b99e00" stroke-width="0.65" stroke-opacity="0.9"/>
<circle cx="423.4" cy="205.8" r="1.25" fill="#b99e00"/>
<circle cx="479.7" cy="215.1" r="1.25" fill="#b99e00"/>
<circle cx="536.2" cy="206.4" r="1.25" fill="#b99e00"/>
<circle cx="592.7" cy="207.9" r="1.25" fill="#b99e00"/>
<circle cx="648.9" cy="251.3" r="1.25" fill="#b99e00"/>
<polyline points="423.4,215.8 479.7,216.5 536.2,219.3 592.7,213.8 648.9,222.0" fill="none" stroke="#8095ff" stroke-width="0.65" stroke-opacity="0.9"/>
<circle cx="423.4" cy="215.8" r="1.25" fill="#8095ff"/>
<circle cx="479.7" cy="216.5" r="1.25" fill="#8095ff"/>
<circle cx="536.2" cy="219.3" r="1.25" fill="#8095ff"/>
<circle cx="592.7" cy="213.8" r="1.25" fill="#8095ff"/>
<circle cx="648.9" cy="222.0" r="1.25" fill="#8095ff"/>
<polyline points="423.4,219.0 479.7,222.5 536.2,221.7 592.7,221.1 648.9,213.4" fill="none" stroke="#00b9e4" stroke-width="0.65" stroke-opacity="0.9"/>
<circle cx="423.4" cy="219.0" r="1.25" fill="#00b9e4"/>
<circle cx="479.7" cy="222.5" r="1.25" fill="#00b9e4"/>
<circle cx="536.2" cy="221.7" r="1.25" fill="#00b9e4"/>
<circle cx="592.7" cy="221.1" r="1.25" fill="#00b9e4"/>
<circle cx="648.9" cy="213.4" r="1.25" fill="#00b9e4"/>
<polyline points="423.4,224.3 479.7,221.5 536.2,222.2 592.7,222.7 648.9,178.0" fill="none" stroke="#a68aff" stroke-width="0.65" stroke-opacity="0.9"/>
<circle cx="423.4" cy="224.3" r="1.25" fill="#a68aff"/>
<circle cx="479.7" cy="221.5" r="1.25" fill="#a68aff"/>
<circle cx="536.2" cy="222.2" r="1.25" fill="#a68aff"/>
<circle cx="592.7" cy="222.7" r="1.25" fill="#a68aff"/>
<circle cx="648.9" cy="178.0" r="1.25" fill="#a68aff"/>
<polyline points="423.4,242.2 479.7,240.7 536.2,233.4 592.7,226.3 648.9,199.4" fill="none" stroke="#00aafe" stroke-width="0.65" stroke-opacity="0.9"/>
<circle cx="423.4" cy="242.2" r="1.25" fill="#00aafe"/>
<circle cx="479.7" cy="240.7" r="1.25" fill="#00aafe"/>
<circle cx="536.2" cy="233.4" r="1.25" fill="#00aafe"/>
<circle cx="592.7" cy="226.3" r="1.25" fill="#00aafe"/>
<circle cx="648.9" cy="199.4" r="1.25" fill="#00aafe"/>
<polyline points="423.4,239.9 479.7,234.5 536.2,233.0 592.7,226.9 648.9,255.8" fill="none" stroke="#aba300" stroke-width="0.65" stroke-opacity="0.9"/>
<circle cx="423.4" cy="239.9" r="1.25" fill="#aba300"/>
<circle cx="479.7" cy="234.5" r="1.25" fill="#aba300"/>
<circle cx="536.2" cy="233.0" r="1.25" fill="#aba300"/>
<circle cx="592.7" cy="226.9" r="1.25" fill="#aba300"/>
<circle cx="648.9" cy="255.8" r="1.25" fill="#aba300"/>
<polyline points="423.4,223.6 479.7,219.4 536.2,221.8 592.7,211.8 648.9,211.7" fill="none" stroke="#00bf78" stroke-width="0.65" stroke-opacity="0.9"/>
<circle cx="423.4" cy="223.6" r="1.25" fill="#00bf78"/>
<circle cx="479.7" cy="219.4" r="1.25" fill="#00bf78"/>
<circle cx="536.2" cy="221.8" r="1.25" fill="#00bf78"/>
<circle cx="592.7" cy="211.8" r="1.25" fill="#00bf78"/>
<circle cx="648.9" cy="211.7" r="1.25" fill="#00bf78"/>
<polyline points="423.4,225.3 479.7,227.1 536.2,230.3 592.7,222.6 648.9,152.2" fill="none" stroke="#00c1ab" stroke-width="0.65" stroke-opacity="0.9"/>
<circle cx="423.4" cy="225.3" r="1.25" fill="#00c1ab"/>
<circle cx="479.7" cy="227.1" r="1.25" fill="#00c1ab"/>
<circle cx="536.2" cy="230.3" r="1.25" fill="#00c1ab"/>
<circle cx="592.7" cy="222.6" r="1.25" fill="#00c1ab"/>
<circle cx="648.9" cy="152.2" r="1.25" fill="#00c1ab"/>
<polyline points="423.4,223.3 479.7,222.5 536.2,219.3 592.7,223.0 648.9,194.4" fill="none" stroke="#b385ff" stroke-width="0.65" stroke-opacity="0.9"/>
<circle cx="423.4" cy="223.3" r="1.25" fill="#b385ff"/>
<circle cx="479.7" cy="222.5" r="1.25" fill="#b385ff"/>
<circle cx="536.2" cy="219.3" r="1.25" fill="#b385ff"/>
<circle cx="592.7" cy="223.0" r="1.25" fill="#b385ff"/>
<circle cx="648.9" cy="194.4" r="1.25" fill="#b385ff"/>
<polyline points="423.4,224.3 479.7,219.3 536.2,213.7 592.7,217.4 648.9,242.9" fill="none" stroke="#00ba41" stroke-width="0.65" stroke-opacity="0.9"/>
<circle cx="423.4" cy="224.3" r="1.25" fill="#00ba41"/>
<circle cx="479.7" cy="219.3" r="1.25" fill="#00ba41"/>
<circle cx="536.2" cy="213.7" r="1.25" fill="#00ba41"/>
<circle cx="592.7" cy="217.4" r="1.25" fill="#00ba41"/>
<circle cx="648.9" cy="242.9" r="1.25" fill="#00ba41"/>
<polyline points="423.4,236.5 479.7,232.3 536.2,238.1 592.7,225.5 648.9,247.6" fill="none" stroke="#82ad00" stroke-width="0.65" stroke-opacity="0.9"/>
<circle cx="423.4" cy="236.5" r="1.25" fill="#82ad00"/>
<circle cx="479.7" cy="232.3" r="1.25" fill="#82ad00"/>
<circle cx="536.2" cy="238.1" r="1.25" fill="#82ad00"/>
<circle cx="592.7" cy="225.5" r="1.25" fill="#82ad00"/>
<circle cx="648.9" cy="247.6" r="1.25" fill="#82ad00"/>
<polyline points="423.4,232.3 479.7,227.1 536.2,222.8 592.7,224.9 648.9,198.8" fill="none" stroke="#aea200" stroke-width="0.65" stroke-opacity="0.9"/>
<circle cx="423.4" cy="232.3" r="1.25" fill="#aea200"/>
<circle cx="479.7" cy="227.1" r="1.25" fill="#aea200"/>
<circle cx="536.2" cy="222.8" r="1.25" fill="#aea200"/>
<circle cx="592.7" cy="224.9" r="1.25" fill="#aea200"/>
<circle cx="648.9" cy="198.8" r="1.25" fill="#aea200"/>
<polyline points="423.4,239.2 479.7,243.1 536.2,238.3 592.7,241.8 648.9,149.6" fill="none" stroke="#a3a500" stroke-width="0.65" stroke-opacity="0.9"/>
<circle cx="423.4" cy="239.2" r="1.25" fill="#a3a500"/>
<circle cx="479.7" cy="243.1" r="1.25" fill="#a3a500"/>
<circle cx="536.2" cy="238.3" r="1.25" fill="#a3a500"/>
<circle cx="592.7" cy="241.8" r="1.25" fill="#a3a500"/>
<circle cx="648.9" cy="149.6" r="1.25" fill="#a3a500"/>
<polyline points="423.4,220.4 479.7,219.8 536.2,224.0 592.7,214.5 648.9,205.9" fill="none" stroke="#91aa00" stroke-width="0.65" stroke-opacity="0.9"/>
<circle cx="423.4" cy="220.4" r="1.25" fill="#91aa00"/>
<circle cx="479.7" cy="219.8" r="1.25" fill="#91aa00"/>
<circle cx="536.2" cy="224.0" r="1.25" fill="#91aa00"/>
<circle cx="592.7" cy="214.5" r="1.25" fill="#91aa00"/>
<circle cx="648.9" cy="205.9" r="1.25" fill="#91aa00"/>
<polyline points="423.4,241.3 479.7,242.8 536.2,244.8 592.7,236.1 648.9,168.7" fill="none" stroke="#00b810" stroke-width="0.65" stroke-opacity="0.9"/>
<circle cx="423.4" cy="241.3" r="1.25" fill="#00b810"/>
<circle cx="479.7" cy="242.8" r="1.25" fill="#00b810"/>
<circle cx="536.2" cy="244.8" r="1.25" fill="#00b810"/>
<circle cx="592.7" cy="236.1" r="1.25" fill="#00b810"/>
<circle cx="648.9" cy="168.7" r="1.25" fill="#00b810"/>
<polyline points="423.4,245.6 479.7,240.9 536.2,239.7 592.7,233.2 648.9,209.0" fill="none" stroke="#00bd5c" stroke-width="0.65" stroke-opacity="0.9"/>
<circle cx="423.4" cy="245.6" r="1.25" fill="#00bd5c"/>
<circle cx="479.7" cy="240.9" r="1.25" fill="#00bd5c"/>
<circle cx="536.2" cy="239.7" r="1.25" fill="#00bd5c"/>
<circle cx="592.7" cy="233.2" r="1.25" fill="#00bd5c"/>
<circle cx="648.9" cy="209.0" r="1.25" fill="#00bd5c"/>
<polyline points="423.4,234.1 479.7,232.0 536.2,228.9 592.7,220.4 648.9,193.9" fill="none" stroke="#00abfd" stroke-width="0.65" stroke-opacity="0.9"/>
<circle cx="423.4" cy="234.1" r="1.25" fill="#00abfd"/>
<circle cx="479.7" cy="232.0" r="1.25" fill="#00abfd"/>
<circle cx="536.2" cy="228.9" r="1.25" fill="#00abfd"/>
<circle cx="592.7" cy="220.4" r="1.25" fill="#00abfd"/>
<circle cx="648.9" cy="193.9" r="1.25" fill="#00abfd"/>
<polyline points="423.4,234.5 479.7,240.6 536.2,238.1 592.7,234.4 648.9,246.5" fill="none" stroke="#ea6af0" stroke-width="0.65" stroke-opacity="0.9"/>
<circle cx="423.4" cy="234.5" r="1.25" fill="#ea6af0"/>
<circle cx="479.7" cy="240.6" r="1.25" fill="#ea6af0"/>
<circle cx="536.2" cy="238.1" r="1.25" fill="#ea6af0"/>
<circle cx="592.7" cy="234.4" r="1.25" fill="#ea6af0"/>
<circle cx="648.9" cy="246.5" r="1.25" fill="#ea6af0"/>
<polyline points="423.4,239.7 479.7,242.8 536.2,239.7 592.7,240.0 648.9,189.6" fill="none" stroke="#f962db" stroke-width="0.65" stroke-opacity="0.9"/>
<circle cx="423.4" cy="239.7" r="1.25" fill="#f962db"/>
<circle cx="479.7" cy="242.8" r="1.25" fill="#f962db"/>
<circle cx="536.2" cy="239.7" r="1.25" fill="#f962db"/>
<circle cx="592.7" cy="240.0" r="1.25" fill="#f962db"/>
<circle cx="648.9" cy="189.6" r="1.25" fill="#f962db"/>
<polyline points="423.4,264.3 479.7,263.0 536.2,260.5 592.7,257.5 648.9,216.0" fill="none" stroke="#88ac00" stroke-width="0.65" stroke-opacity="0.9"/>
<circle cx="423.4" cy="264.3" r="1.25" fill="#88ac00"/>
<circle cx="479.7" cy="263.0" r="1.25" fill="#88ac00"/>
<circle cx="536.2" cy="260.5" r="1.25" fill="#88ac00"/>
<circle cx="592.7" cy="257.5" r="1.25" fill="#88ac00"/>
<circle cx="648.9" cy="216.0" r="1.25" fill="#88ac00"/>
<polyline points="423.4,229.3 479.7,219.7 536.2,218.7 592.7,227.7 648.9,206.7" fill="none" stroke="#00bade" stroke-width="0.65" stroke-opacity="0.9"/>
<circle cx="423.4" cy="229.3" r="1.25" fill="#00bade"/>
<circle cx="479.7" cy="219.7" r="1.25" fill="#00bade"/>
<circle cx="536.2" cy="218.7" r="1.25" fill="#00bade"/>
<circle cx="592.7" cy="227.7" r="1.25" fill="#00bade"/>
<circle cx="648.9" cy="206.7" r="1.25" fill="#00bade"/>
<polyline points="423.4,228.1 479.7,216.2 536.2,212.3 592.7,211.4 648.9,206.3" fill="none" stroke="#00be6e" stroke-width="0.65" stroke-opacity="0.9"/>
<circle cx="423.4" cy="228.1" r="1.25" fill="#00be6e"/>
<circle cx="479.7" cy="216.2" r="1.25" fill="#00be6e"/>
<circle cx="536.2" cy="212.3" r="1.25" fill="#00be6e"/>
<circle cx="592.7" cy="211.4" r="1.25" fill="#00be6e"/>
<circle cx="648.9" cy="206.3" r="1.25" fill="#00be6e"/>
<polyline points="423.4,240.1 479.7,239.4 536.2,235.3 592.7,235.1 648.9,204.1" fill="none" stroke="#2fa2ff" stroke-width="0.65" stroke-opacity="0.9"/>
<circle cx="423.4" cy="240.1" r="1.25" fill="#2fa2ff"/>
<circle cx="479.7" cy="239.4" r="1.25" fill="#2fa2ff"/>
<circle cx="536.2" cy="235.3" r="1.25" fill="#2fa2ff"/>
<circle cx="592.7" cy="235.1" r="1.25" fill="#2fa2ff"/>
<circle cx="648.9" cy="204.1" r="1.25" fill="#2fa2ff"/>
<polyline points="423.4,250.1 479.7,244.0 536.2,237.4 592.7,243.0 648.9,209.6" fill="none" stroke="#be80ff" stroke-width="0.65" stroke-opacity="0.9"/>
<circle cx="423.4" cy="250.1" r="1.25" fill="#be80ff"/>
<circle cx="479.7" cy="244.0" r="1.25" fill="#be80ff"/>
<circle cx="536.2" cy="237.4" r="1.25" fill="#be80ff"/>
<circle cx="592.7" cy="243.0" r="1.25" fill="#be80ff"/>
<circle cx="648.9" cy="209.6" r="1.25" fill="#be80ff"/>
<polyline points="423.4,228.8 479.7,229.7 536.2,226.9 592.7,217.0 648.9,183.8" fill="none" stroke="#00bdd1" stroke-width="0.65" stroke-opacity="0.9"/>
<circle cx="423.4" cy="228.8" r="1.25" fill="#00bdd1"/>
<circle cx="479.7" cy="229.7" r="1.25" fill="#00bdd1"/>
<circle cx="536.2" cy="226.9" r="1.25" fill="#00bdd1"/>
<circle cx="592.7" cy="217.0" r="1.25" fill="#00bdd1"/>
<circle cx="648.9" cy="183.8" r="1.25" fill="#00bdd1"/>
<polyline points="423.4,239.5 479.7,237.1 536.2,236.3 592.7,227.8 648.9,222.6" fill="none" stroke="#00c095" stroke-width="0.65" stroke-opacity="0.9"/>
<circle cx="423.4" cy="239.5" r="1.25" fill="#00c095"/>
<circle cx="479.7" cy="237.1" r="1.25" fill="#00c095"/>
<circle cx="536.2" cy="236.3" r="1.25" fill="#00c095"/>
<circle cx="592.7" cy="227.8" r="1.25" fill="#00c095"/>
<circle cx="648.9" cy="222.6" r="1.25" fill="#00c095"/>
<polyline points="423.4,212.0 479.7,220.4 536.2,214.9 592.7,213.0 648.9,147.9" fill="none" stroke="#00bd62" stroke-width="0.65" stroke-opacity="0.9"/>
<circle cx="423.4" cy="212.0" r="1.25" fill="#00bd62"/>
<circle cx="479.7" cy="220.4" r="1.25" fill="#00bd62"/>
<circle cx="536.2" cy="214.9" r="1.25" fill="#00bd62"/>
<circle cx="592.7" cy="213.0" r="1.25" fill="#00bd62"/>
<circle cx="648.9" cy="147.9" r="1.25" fill="#00bd62"/>
<polyline points="423.4,225.4 479.7,227.2 536.2,228.8 592.7,215.3 648.9,205.3" fill="none" stroke="#00a4ff" stroke-width="0.65" stroke-opacity="0.9"/>
<circle cx="423.4" cy="225.4" r="1.25" fill="#00a4ff"/>
<circle cx="479.7" cy="227.2" r="1.25" fill="#00a4ff"/>
<circle cx="536.2" cy="228.8" r="1.25" fill="#00a4ff"/>
<circle cx="592.7" cy="215.3" r="1.25" fill="#00a4ff"/>
<circle cx="648.9" cy="205.3" r="1.25" fill="#00a4ff"/>
<polyline points="423.4,233.7 479.7,227.3 536.2,229.2 592.7,234.1 648.9,211.8" fill="none" stroke="#fd6f88" stroke-width="0.65" stroke-opacity="0.9"/>
<circle cx="423.4" cy="233.7" r="1.25" fill="#fd6f88"/>
<circle cx="479.7" cy="227.3" r="1.25" fill="#fd6f88"/>
<circle cx="536.2" cy="229.2" r="1.25" fill="#fd6f88"/>
<circle cx="592.7" cy="234.1" r="1.25" fill="#fd6f88"/>
<circle cx="648.9" cy="211.8" r="1.25" fill="#fd6f88"/>
<polyline points="423.4,237.9 479.7,232.4 536.2,229.9 592.7,230.4 648.9,189.9" fill="none" stroke="#00adfb" stroke-width="0.65" stroke-opacity="0.9"/>
<circle cx="423.4" cy="237.9" r="1.25" fill="#00adfb"/>
<circle cx="479.7" cy="232.4" r="1.25" fill="#00adfb"/>
<circle cx="536.2" cy="229.9" r="1.25" fill="#00adfb"/>
<circle cx="592.7" cy="230.4" r="1.25" fill="#00adfb"/>
<circle cx="648.9" cy="189.9" r="1.25" fill="#00adfb"/>
<polyline points="423.4,250.8 479.7,251.7 536.2,244.8 592.7,245.9 648.9,189.8" fill="none" stroke="#e46df5" stroke-width="0.65" stroke-opacity="0.9"/>
<circle cx="423.4" cy="250.8" r="1.25" fill="#e46df5"/>
<circle cx="479.7" cy="251.7" r="1.25" fill="#e46df5"/>
<circle cx="536.2" cy="244.8" r="1.25" fill="#e46df5"/>
<circle cx="592.7" cy="245.9" r="1.25" fill="#e46df5"/>
<circle cx="648.9" cy="189.8" r="1.25" fill="#e46df5"/>
<polyline points="423.4,220.9 479.7,220.6 536.2,216.2 592.7,222.3 648.9,226.4" fill="none" stroke="#00c0b7" stroke-width="0.65" stroke-opacity="0.9"/>
<circle cx="423.4" cy="220.9" r="1.25" fill="#00c0b7"/>
<circle cx="479.7" cy="220.6" r="1.25" fill="#00c0b7"/>
<circle cx="536.2" cy="216.2" r="1.25" fill="#00c0b7"/>
<circle cx="592.7" cy="222.3" r="1.25" fill="#00c0b7"/>
<circle cx="648.9" cy="226.4" r="1.25" fill="#00c0b7"/>
<polyline points="423.4,209.3 479.7,219.1 536.2,211.5 592.7,206.5 648.9,220.8" fill="none" stroke="#00c0af" stroke-width="0.65" stroke-opacity="0.9"/>
<circle cx="423.4" cy="209.3" r="1.25" fill="#00c0af"/>
<circle cx="479.7" cy="219.1" r="1.25" fill="#00c0af"/>
<circle cx="536.2" cy="211.5" r="1.25" fill="#00c0af"/>
<circle cx="592.7" cy="206.5" r="1.25" fill="#00c0af"/>
<circle cx="648.9" cy="220.8" r="1.25" fill="#00c0af"/>
<polyline points="423.4,247.3 479.7,242.4 536.2,246.6 592.7,245.6 648.9,240.7" fill="none" stroke="#6c9aff" stroke-width="0.65" stroke-opacity="0.9"/>
<circle cx="423.4" cy="247.3" r="1.25" fill="#6c9aff"/>
<circle cx="479.7" cy="242.4" r="1.25" fill="#6c9aff"/>
<circle cx="536.2" cy="246.6" r="1.25" fill="#6c9aff"/>
<circle cx="592.7" cy="245.6" r="1.25" fill="#6c9aff"/>
<circle cx="648.9" cy="240.7" r="1.25" fill="#6c9aff"/>
<polyline points="423.4,261.1 479.7,260.5 536.2,263.9 592.7,262.3 648.9,191.7" fill="none" stroke="#ad87ff" stroke-width="0.65" stroke-opacity="0.9"/>
<circle cx="423.4" cy="261.1" r="1.25" fill="#ad87ff"/>
<circle cx="479.7" cy="260.5" r="1.25" fill="#ad87ff"/>
<circle cx="536.2" cy="263.9" r="1.25" fill="#ad87ff"/>
<circle cx="592.7" cy="262.3" r="1.25" fill="#ad87ff"/>
<circle cx="648.9" cy="191.7" r="1.25" fill="#ad87ff"/>
<polyline points="423.4,258.8 479.7,258.5 536.2,254.3 592.7,254.7 648.9,231.3" fill="none" stroke="#00bc50" stroke-width="0.65" stroke-opacity="0.9"/>
<circle cx="423.4" cy="258.8" r="1.25" fill="#00bc50"/>
<circle cx="479.7" cy="258.5" r="1.25" fill="#00bc50"/>
<circle cx="536.2" cy="254.3" r="1.25" fill="#00bc50"/>
<circle cx="592.7" cy="254.7" r="1.25" fill="#00bc50"/>
<circle cx="648.9" cy="231.3" r="1.25" fill="#00bc50"/>
<polyline points="423.4,224.7 479.7,228.9 536.2,227.2 592.7,219.7 648.9,170.2" fill="none" stroke="#00c0bb" stroke-width="0.65" stroke-opacity="0.9"/>
<circle cx="423.4" cy="224.7" r="1.25" fill="#00c0bb"/>
<circle cx="479.7" cy="228.9" r="1.25" fill="#00c0bb"/>
<circle cx="536.2" cy="227.2" r="1.25" fill="#00c0bb"/>
<circle cx="592.7" cy="219.7" r="1.25" fill="#00c0bb"/>
<circle cx="648.9" cy="170.2" r="1.25" fill="#00c0bb"/>
<polyline points="423.4,225.3 479.7,228.9 536.2,228.9 592.7,223.7 648.9,174.5" fill="none" stroke="#fb61d8" stroke-width="0.65" stroke-opacity="0.9"/>
<circle cx="423.4" cy="225.3" r="1.25" fill="#fb61d8"/>
<circle cx="479.7" cy="228.9" r="1.25" fill="#fb61d8"/>
<circle cx="536.2" cy="228.9" r="1.25" fill="#fb61d8"/>
<circle cx="592.7" cy="223.7" r="1.25" fill="#fb61d8"/>
<circle cx="648.9" cy="174.5" r="1.25" fill="#fb61d8"/>
<polyline points="423.4,224.8 479.7,226.8 536.2,222.7 592.7,224.2 648.9,154.9" fill="none" stroke="#00a8ff" stroke-width="0.65" stroke-opacity="0.9"/>
<circle cx="423.4" cy="224.8" r="1.25" fill="#00a8ff"/>
<circle cx="479.7" cy="226.8" r="1.25" fill="#00a8ff"/>
<circle cx="536.2" cy="222.7" r="1.25" fill="#00a8ff"/>
<circle cx="592.7" cy="224.2" r="1.25" fill="#00a8ff"/>
<circle cx="648.9" cy="154.9" r="1.25" fill="#00a8ff"/>
<polyline points="423.4,219.0 479.7,217.3 536.2,226.5 592.7,222.4 648.9,204.5" fill="none" stroke="#c37eff" stroke-width="0.65" stroke-opacity="0.9"/>
<circle cx="423.4" cy="219.0" r="1.25" fill="#c37eff"/>
<circle cx="479.7" cy="217.3" r="1.25" fill="#c37eff"/>
<circle cx="536.2" cy="226.5" r="1.25" fill="#c37eff"/>
<circle cx="592.7" cy="222.4" r="1.25" fill="#c37eff"/>
<circle cx="648.9" cy="204.5" r="1.25" fill="#c37eff"/>
<polyline points="423.4,236.3 479.7,224.7 536.2,230.3 592.7,224.5 648.9,234.7" fill="none" stroke="#00b4ef" stroke-width="0.65" stroke-opacity="0.9"/>
<circle cx="423.4" cy="236.3" r="1.25" fill="#00b4ef"/>
<circle cx="479.7" cy="224.7" r="1.25" fill="#00b4ef"/>
<circle cx="536.2" cy="230.3" r="1.25" fill="#00b4ef"/>
<circle cx="592.7" cy="224.5" r="1.25" fill="#00b4ef"/>
<circle cx="648.9" cy="234.7" r="1.25" fill="#00b4ef"/>
<polyline points="423.4,234.7 479.7,231.2 536.2,225.7 592.7,227.3 648.9,188.6" fill="none" stroke="#ed68ee" stroke-width="0.65" stroke-opacity="0.9"/>
<circle cx="423.4" cy="234.7" r="1.25" fill="#ed68ee"/>
<circle cx="479.7" cy="231.2" r="1.25" fill="#ed68ee"/>
<circle cx="536.2" cy="225.7" r="1.25" fill="#ed68ee"/>
<circle cx="592.7" cy="227.3" r="1.25" fill="#ed68ee"/>
<circle cx="648.9" cy="188.6" r="1.25" fill="#ed68ee"/>
<polyline points="423.4,230.2 479.7,223.7 536.2,215.0 592.7,214.9 648.9,210.9" fill="none" stroke="#f863df" stroke-width="0.65" stroke-opacity="0.9"/>
<circle cx="423.4" cy="230.2" r="1.25" fill="#f863df"/>
<circle cx="479.7" cy="223.7" r="1.25" fill="#f863df"/>
<circle cx="536.2" cy="215.0" r="1.25" fill="#f863df"/>
<circle cx="592.7" cy="214.9" r="1.25" fill="#f863df"/>
<circle cx="648.9" cy="210.9" r="1.25" fill="#f863df"/>
<polyline points="423.4,250.3 479.7,253.2 536.2,246.4 592.7,240.2 648.9,181.1" fill="none" stroke="#e76bf3" stroke-width="0.65" stroke-opacity="0.9"/>
<circle cx="423.4" cy="250.3" r="1.25" fill="#e76bf3"/>
<circle cx="479.7" cy="253.2" r="1.25" fill="#e76bf3"/>
<circle cx="536.2" cy="246.4" r="1.25" fill="#e76bf3"/>
<circle cx="592.7" cy="240.2" r="1.25" fill="#e76bf3"/>
<circle cx="648.9" cy="181.1" r="1.25" fill="#e76bf3"/>
<polyline points="423.4,223.8 479.7,222.5 536.2,226.2 592.7,219.1 648.9,228.6" fill="none" stroke="#00c08c" stroke-width="0.65" stroke-opacity="0.9"/>
<circle cx="423.4" cy="223.8" r="1.25" fill="#00c08c"/>
<circle cx="479.7" cy="222.5" r="1.25" fill="#00c08c"/>
<circle cx="536.2" cy="226.2" r="1.25" fill="#00c08c"/>
<circle cx="592.7" cy="219.1" r="1.25" fill="#00c08c"/>
<circle cx="648.9" cy="228.6" r="1.25" fill="#00c08c"/>
<polyline points="423.4,246.4 479.7,248.9 536.2,254.2 592.7,244.0 648.9,181.1" fill="none" stroke="#00c19a" stroke-width="0.65" stroke-opacity="0.9"/>
<circle cx="423.4" cy="246.4" r="1.25" fill="#00c19a"/>
<circle cx="479.7" cy="248.9" r="1.25" fill="#00c19a"/>
<circle cx="536.2" cy="254.2" r="1.25" fill="#00c19a"/>
<circle cx="592.7" cy="244.0" r="1.25" fill="#00c19a"/>
<circle cx="648.9" cy="181.1" r="1.25" fill="#00c19a"/>
<polyline points="423.4,213.2 479.7,214.9 536.2,218.0 592.7,214.5 648.9,160.1" fill="none" stroke="#d675fe" stroke-width="0.65" stroke-opacity="0.9"/>
<circle cx="423.4" cy="213.2" r="1.25" fill="#d675fe"/>
<circle cx="479.7" cy="214.9" r="1.25" fill="#d675fe"/>
<circle cx="536.2" cy="218.0" r="1.25" fill="#d675fe"/>
<circle cx="592.7" cy="214.5" r="1.25" fill="#d675fe"/>
<circle cx="648.9" cy="160.1" r="1.25" fill="#d675fe"/>
<polyline points="423.4,248.0 479.7,238.8 536.2,232.5 592.7,234.4 648.9,195.0" fill="none" stroke="#00c0bf" stroke-width="0.65" stroke-opacity="0.9"/>
<circle cx="423.4" cy="248.0" r="1.25" fill="#00c0bf"/>
<circle cx="479.7" cy="238.8" r="1.25" fill="#00c0bf"/>
<circle cx="536.2" cy="232.5" r="1.25" fill="#00c0bf"/>
<circle cx="592.7" cy="234.4" r="1.25" fill="#00c0bf"/>
<circle cx="648.9" cy="195.0" r="1.25" fill="#00c0bf"/>
<polyline points="423.4,210.2 479.7,221.4 536.2,213.1 592.7,209.7 648.9,180.2" fill="none" stroke="#00c19e" stroke-width="0.65" stroke-opacity="0.9"/>
<circle cx="423.4" cy="210.2" r="1.25" fill="#00c19e"/>
<circle cx="479.7" cy="221.4" r="1.25" fill="#00c19e"/>
<circle cx="536.2" cy="213.1" r="1.25" fill="#00c19e"/>
<circle cx="592.7" cy="209.7" r="1.25" fill="#00c19e"/>
<circle cx="648.9" cy="180.2" r="1.25" fill="#00c19e"/>
<polyline points="423.4,242.5 479.7,244.2 536.2,236.4 592.7,234.3 648.9,147.8" fill="none" stroke="#d973fc" stroke-width="0.65" stroke-opacity="0.9"/>
<circle cx="423.4" cy="242.5" r="1.25" fill="#d973fc"/>
<circle cx="479.7" cy="244.2" r="1.25" fill="#d973fc"/>
<circle cx="536.2" cy="236.4" r="1.25" fill="#d973fc"/>
<circle cx="592.7" cy="234.3" r="1.25" fill="#d973fc"/>
<circle cx="648.9" cy="147.8" r="1.25" fill="#d973fc"/>
<polyline points="423.4,228.7 479.7,220.2 536.2,223.6 592.7,216.5 648.9,174.8" fill="none" stroke="#ff65ad" stroke-width="0.65" stroke-opacity="0.9"/>
<circle cx="423.4" cy="228.7" r="1.25" fill="#ff65ad"/>
<circle cx="479.7" cy="220.2" r="1.25" fill="#ff65ad"/>
<circle cx="536.2" cy="223.6" r="1.25" fill="#ff65ad"/>
<circle cx="592.7" cy="216.5" r="1.25" fill="#ff65ad"/>
<circle cx="648.9" cy="174.8" r="1.25" fill="#ff65ad"/>
<polyline points="423.4,243.3 479.7,238.0 536.2,240.8 592.7,242.2 648.9,207.6" fill="none" stroke="#e16ff8" stroke-width="0.65" stroke-opacity="0.9"/>
<circle cx="423.4" cy="243.3" r="1.25" fill="#e16ff8"/>
<circle cx="479.7" cy="238.0" r="1.25" fill="#e16ff8"/>
<circle cx="536.2" cy="240.8" r="1.25" fill="#e16ff8"/>
<circle cx="592.7" cy="242.2" r="1.25" fill="#e16ff8"/>
<circle cx="648.9" cy="207.6" r="1.25" fill="#e16ff8"/>
<polyline points="423.4,218.7 479.7,216.8 536.2,215.9 592.7,211.2 648.9,217.6" fill="none" stroke="#fe61cd" stroke-width="0.65" stroke-opacity="0.9"/>
<circle cx="423.4" cy="218.7" r="1.25" fill="#fe61cd"/>
<circle cx="479.7" cy="216.8" r="1.25" fill="#fe61cd"/>
<circle cx="536.2" cy="215.9" r="1.25" fill="#fe61cd"/>
<circle cx="592.7" cy="211.2" r="1.25" fill="#fe61cd"/>
<circle cx="648.9" cy="217.6" r="1.25" fill="#fe61cd"/>
<polyline points="423.4,225.3 479.7,228.9 536.2,229.0 592.7,222.3 648.9,206.4" fill="none" stroke="#988eff" stroke-width="0.65" stroke-opacity="0.9"/>
<circle cx="423.4" cy="225.3" r="1.25" fill="#988eff"/>
<circle cx="479.7" cy="228.9" r="1.25" fill="#988eff"/>
<circle cx="536.2" cy="229.0" r="1.25" fill="#988eff"/>
<circle cx="592.7" cy="222.3" r="1.25" fill="#988eff"/>
<circle cx="648.9" cy="206.4" r="1.25" fill="#988eff"/>
<polyline points="423.4,238.4 479.7,242.4 536.2,238.7 592.7,225.6 648.9,219.0" fill="none" stroke="#ff699b" stroke-width="0.65" stroke-opacity="0.9"/>
<circle cx="423.4" cy="238.4" r="1.25" fill="#ff699b"/>
<circle cx="479.7" cy="242.4" r="1.25" fill="#ff699b"/>
<circle cx="536.2" cy="238.7" r="1.25" fill="#ff699b"/>
<circle cx="592.7" cy="225.6" r="1.25" fill="#ff699b"/>
<circle cx="648.9" cy="219.0" r="1.25" fill="#ff699b"/>
<polyline points="423.4,231.9 479.7,238.0 536.2,231.8 592.7,226.3 648.9,238.8" fill="none" stroke="#fb727d" stroke-width="0.65" stroke-opacity="0.9"/>
<circle cx="423.4" cy="231.9" r="1.25" fill="#fb727d"/>
<circle cx="479.7" cy="238.0" r="1.25" fill="#fb727d"/>
<circle cx="536.2" cy="231.8" r="1.25" fill="#fb727d"/>
<circle cx="592.7" cy="226.3" r="1.25" fill="#fb727d"/>
<circle cx="648.9" cy="238.8" r="1.25" fill="#fb727d"/>
<polyline points="423.4,227.0 479.7,228.0 536.2,234.2 592.7,235.7 648.9,188.4" fill="none" stroke="#ff63b6" stroke-width="0.65" stroke-opacity="0.9"/>
<circle cx="423.4" cy="227.0" r="1.25" fill="#ff63b6"/>
<circle cx="479.7" cy="228.0" r="1.25" fill="#ff63b6"/>
<circle cx="536.2" cy="234.2" r="1.25" fill="#ff63b6"/>
<circle cx="592.7" cy="235.7" r="1.25" fill="#ff63b6"/>
<circle cx="648.9" cy="188.4" r="1.25" fill="#ff63b6"/>
<polyline points="423.4,227.1 479.7,223.3 536.2,224.4 592.7,229.0 648.9,215.8" fill="none" stroke="#00bfc6" stroke-width="0.65" stroke-opacity="0.9"/>
<circle cx="423.4" cy="227.1" r="1.25" fill="#00bfc6"/>
<circle cx="479.7" cy="223.3" r="1.25" fill="#00bfc6"/>
<circle cx="536.2" cy="224.4" r="1.25" fill="#00bfc6"/>
<circle cx="592.7" cy="229.0" r="1.25" fill="#00bfc6"/>
<circle cx="648.9" cy="215.8" r="1.25" fill="#00bfc6"/>
<polyline points="423.4,227.1 479.7,226.5 536.2,228.4 592.7,227.5 648.9,242.9" fill="none" stroke="#00bdd4" stroke-width="0.65" stroke-opacity="0.9"/>
<circle cx="423.4" cy="227.1" r="1.25" fill="#00bdd4"/>
<circle cx="479.7" cy="226.5" r="1.25" fill="#00bdd4"/>
<circle cx="536.2" cy="228.4" r="1.25" fill="#00bdd4"/>
<circle cx="592.7" cy="227.5" r="1.25" fill="#00bdd4"/>
<circle cx="648.9" cy="242.9" r="1.25" fill="#00bdd4"/>
<polyline points="423.4,254.2 479.7,249.9 536.2,250.8 592.7,243.7 648.9,193.3" fill="none" stroke="#f663e2" stroke-width="0.65" stroke-opacity="0.9"/>
<circle cx="423.4" cy="254.2" r="1.25" fill="#f663e2"/>
<circle cx="479.7" cy="249.9" r="1.25" fill="#f663e2"/>
<circle cx="536.2" cy="250.8" r="1.25" fill="#f663e2"/>
<circle cx="592.7" cy="243.7" r="1.25" fill="#f663e2"/>
<circle cx="648.9" cy="193.3" r="1.25" fill="#f663e2"/>
<polyline points="423.4,216.7 479.7,220.3 536.2,216.2 592.7,215.7 648.9,176.1" fill="none" stroke="#00bbdb" stroke-width="0.65" stroke-opacity="0.9"/>
<circle cx="423.4" cy="216.7" r="1.25" fill="#00bbdb"/>
<circle cx="479.7" cy="220.3" r="1.25" fill="#00bbdb"/>
<circle cx="536.2" cy="216.2" r="1.25" fill="#00bbdb"/>
<circle cx="592.7" cy="215.7" r="1.25" fill="#00bbdb"/>
<circle cx="648.9" cy="176.1" r="1.25" fill="#00bbdb"/>
<polyline points="423.4,242.0 479.7,241.5 536.2,237.5 592.7,237.5 648.9,164.7" fill="none" stroke="#8993ff" stroke-width="0.65" stroke-opacity="0.9"/>
<circle cx="423.4" cy="242.0" r="1.25" fill="#8993ff"/>
<circle cx="479.7" cy="241.5" r="1.25" fill="#8993ff"/>
<circle cx="536.2" cy="237.5" r="1.25" fill="#8993ff"/>
<circle cx="592.7" cy="237.5" r="1.25" fill="#8993ff"/>
<circle cx="648.9" cy="164.7" r="1.25" fill="#8993ff"/>
<polyline points="423.4,243.3 479.7,251.5 536.2,244.3 592.7,241.0 648.9,156.7" fill="none" stroke="#00a6ff" stroke-width="0.65" stroke-opacity="0.9"/>
<circle cx="423.4" cy="243.3" r="1.25" fill="#00a6ff"/>
<circle cx="479.7" cy="251.5" r="1.25" fill="#00a6ff"/>
<circle cx="536.2" cy="244.3" r="1.25" fill="#00a6ff"/>
<circle cx="592.7" cy="241.0" r="1.25" fill="#00a6ff"/>
<circle cx="648.9" cy="156.7" r="1.25" fill="#00a6ff"/>
<polyline points="423.4,268.6 479.7,262.3 536.2,259.4 592.7,257.9 648.9,224.3" fill="none" stroke="#a08cff" stroke-width="0.65" stroke-opacity="0.9"/>
<circle cx="423.4" cy="268.6" r="1.25" fill="#a08cff"/>
<circle cx="479.7" cy="262.3" r="1.25" fill="#a08cff"/>
<circle cx="536.2" cy="259.4" r="1.25" fill="#a08cff"/>
<circle cx="592.7" cy="257.9" r="1.25" fill="#a08cff"/>
<circle cx="648.9" cy="224.3" r="1.25" fill="#a08cff"/>
<polyline points="423.4,244.8 479.7,235.1 536.2,242.9 592.7,242.0 648.9,215.5" fill="none" stroke="#7798ff" stroke-width="0.65" stroke-opacity="0.9"/>
<circle cx="423.4" cy="244.8" r="1.25" fill="#7798ff"/>
<circle cx="479.7" cy="235.1" r="1.25" fill="#7798ff"/>
<circle cx="536.2" cy="242.9" r="1.25" fill="#7798ff"/>
<circle cx="592.7" cy="242.0" r="1.25" fill="#7798ff"/>
<circle cx="648.9" cy="215.5" r="1.25" fill="#7798ff"/>
<polyline points="423.4,250.3 479.7,239.3 536.2,241.7 592.7,233.6 648.9,228.6" fill="none" stroke="#ff66a9" stroke-width="0.65" stroke-opacity="0.9"/>
<circle cx="423.4" cy="250.3" r="1.25" fill="#ff66a9"/>
<circle cx="479.7" cy="239.3" r="1.25" fill="#ff66a9"/>
<circle cx="536.2" cy="241.7" r="1.25" fill="#ff66a9"/>
<circle cx="592.7" cy="233.6" r="1.25" fill="#ff66a9"/>
<circle cx="648.9" cy="228.6" r="1.25" fill="#ff66a9"/>
<polyline points="423.4,249.2 479.7,251.8 536.2,241.4 592.7,239.8 648.9,246.4" fill="none" stroke="#f464e5" stroke-width="0.65" stroke-opacity="0.9"/>
<circle cx="423.4" cy="249.2" r="1.25" fill="#f464e5"/>
<circle cx="479.7" cy="251.8" r="1.25" fill="#f464e5"/>
<circle cx="536.2" cy="241.4" r="1.25" fill="#f464e5"/>
<circle cx="592.7" cy="239.8" r="1.25" fill="#f464e5"/>
<circle cx="648.9" cy="246.4" r="1.25" fill="#f464e5"/>
<polyline points="423.4,223.5 479.7,213.9 536.2,215.6 592.7,209.8 648.9,193.6" fill="none" stroke="#00b3f2" stroke-width="0.65" stroke-opacity="0.9"/>
<circle cx="423.4" cy="223.5" r="1.25" fill="#00b3f2"/>
<circle cx="479.7" cy="213.9" r="1.25" fill="#00b3f2"/>
<circle cx="536.2" cy="215.6" r="1.25" fill="#00b3f2"/>
<circle cx="592.7" cy="209.8" r="1.25" fill="#00b3f2"/>
<circle cx="648.9" cy="193.6" r="1.25" fill="#00b3f2"/>
<polyline points="423.4,233.5 479.7,234.4 536.2,226.8 592.7,221.7 648.9,221.5" fill="none" stroke="#dd71fa" stroke-width="0.65" stroke-opacity="0.9"/>
<circle cx="423.4" cy="233.5" r="1.25" fill="#dd71fa"/>
<circle cx="479.7" cy="234.4" r="1.25" fill="#dd71fa"/>
<circle cx="536.2" cy="226.8" r="1.25" fill="#dd71fa"/>
<circle cx="592.7" cy="221.7" r="1.25" fill="#dd71fa"/>
<circle cx="648.9" cy="221.5" r="1.25" fill="#dd71fa"/>
<polyline points="423.4,249.3 479.7,251.4 536.2,246.0 592.7,242.0 648.9,183.4" fill="none" stroke="#00aef9" stroke-width="0.65" stroke-opacity="0.9"/>
<circle cx="423.4" cy="249.3" r="1.25" fill="#00aef9"/>
<circle cx="479.7" cy="251.4" r="1.25" fill="#00aef9"/>
<circle cx="536.2" cy="246.0" r="1.25" fill="#00aef9"/>
<circle cx="592.7" cy="242.0" r="1.25" fill="#00aef9"/>
<circle cx="648.9" cy="183.4" r="1.25" fill="#00aef9"/>
<polyline points="423.4,236.5 479.7,241.9 536.2,236.6 592.7,231.8 648.9,230.8" fill="none" stroke="#549eff" stroke-width="0.65" stroke-opacity="0.9"/>
<circle cx="423.4" cy="236.5" r="1.25" fill="#549eff"/>
<circle cx="479.7" cy="241.9" r="1.25" fill="#549eff"/>
<circle cx="536.2" cy="236.6" r="1.25" fill="#549eff"/>
<circle cx="592.7" cy="231.8" r="1.25" fill="#549eff"/>
<circle cx="648.9" cy="230.8" r="1.25" fill="#549eff"/>
<polyline points="423.4,251.6 479.7,246.5 536.2,240.8 592.7,240.7 648.9,178.5" fill="none" stroke="#f97573" stroke-width="0.65" stroke-opacity="0.9"/>
<circle cx="423.4" cy="251.6" r="1.25" fill="#f97573"/>
<circle cx="479.7" cy="246.5" r="1.25" fill="#f97573"/>
<circle cx="536.2" cy="240.8" r="1.25" fill="#f97573"/>
<circle cx="592.7" cy="240.7" r="1.25" fill="#f97573"/>
<circle cx="648.9" cy="178.5" r="1.25" fill="#f97573"/>
<polyline points="423.4,246.3 479.7,239.4 536.2,238.9 592.7,237.2 648.9,184.8" fill="none" stroke="#b983ff" stroke-width="0.65" stroke-opacity="0.9"/>
<circle cx="423.4" cy="246.3" r="1.25" fill="#b983ff"/>
<circle cx="479.7" cy="239.4" r="1.25" fill="#b983ff"/>
<circle cx="536.2" cy="238.9" r="1.25" fill="#b983ff"/>
<circle cx="592.7" cy="237.2" r="1.25" fill="#b983ff"/>
<circle cx="648.9" cy="184.8" r="1.25" fill="#b983ff"/>
<polyline points="423.4,246.3 479.7,248.4 536.2,244.3 592.7,246.0 648.9,177.1" fill="none" stroke="#cd79ff" stroke-width="0.65" stroke-opacity="0.9"/>
<circle cx="423.4" cy="246.3" r="1.25" fill="#cd79ff"/>
<circle cx="479.7" cy="248.4" r="1.25" fill="#cd79ff"/>
<circle cx="536.2" cy="244.3" r="1.25" fill="#cd79ff"/>
<circle cx="592.7" cy="246.0" r="1.25" fill="#cd79ff"/>
<circle cx="648.9" cy="177.1" r="1.25" fill="#cd79ff"/>
<polyline points="423.4,232.9 479.7,234.1 536.2,235.9 592.7,231.7 648.9,163.3" fill="none" stroke="#fd7083" stroke-width="0.65" stroke-opacity="0.9"/>
<circle cx="423.4" cy="232.9" r="1.25" fill="#fd7083"/>
<circle cx="479.7" cy="234.1" r="1.25" fill="#fd7083"/>
<circle cx="536.2" cy="235.9" r="1.25" fill="#fd7083"/>
<circle cx="592.7" cy="231.7" r="1.25" fill="#fd7083"/>
<circle cx="648.9" cy="163.3" r="1.25" fill="#fd7083"/>
<polyline points="423.4,233.1 479.7,229.5 536.2,221.3 592.7,221.9 648.9,206.1" fill="none" stroke="#ff62be" stroke-width="0.65" stroke-opacity="0.9"/>
<circle cx="423.4" cy="233.1" r="1.25" fill="#ff62be"/>
<circle cx="479.7" cy="229.5" r="1.25" fill="#ff62be"/>
<circle cx="536.2" cy="221.3" r="1.25" fill="#ff62be"/>
<circle cx="592.7" cy="221.9" r="1.25" fill="#ff62be"/>
<circle cx="648.9" cy="206.1" r="1.25" fill="#ff62be"/>
<polyline points="423.4,215.5 479.7,212.3 536.2,214.2 592.7,210.1 648.9,216.8" fill="none" stroke="#9191ff" stroke-width="0.65" stroke-opacity="0.9"/>
<circle cx="423.4" cy="215.5" r="1.25" fill="#9191ff"/>
<circle cx="479.7" cy="212.3" r="1.25" fill="#9191ff"/>
<circle cx="536.2" cy="214.2" r="1.25" fill="#9191ff"/>
<circle cx="592.7" cy="210.1" r="1.25" fill="#9191ff"/>
<circle cx="648.9" cy="216.8" r="1.25" fill="#9191ff"/>
<polyline points="423.4,238.2 479.7,232.0 536.2,234.4 592.7,228.6 648.9,194.2" fill="none" stroke="#fe6d8d" stroke-width="0.65" stroke-opacity="0.9"/>
<circle cx="423.4" cy="238.2" r="1.25" fill="#fe6d8d"/>
<circle cx="479.7" cy="232.0" r="1.25" fill="#fe6d8d"/>
<circle cx="536.2" cy="234.4" r="1.25" fill="#fe6d8d"/>
<circle cx="592.7" cy="228.6" r="1.25" fill="#fe6d8d"/>
<circle cx="648.9" cy="194.2" r="1.25" fill="#fe6d8d"/>
<polyline points="423.4,246.8 479.7,249.4 536.2,241.6 592.7,238.9 648.9,207.9" fill="none" stroke="#ff61c2" stroke-width="0.65" stroke-opacity="0.9"/>
<circle cx="423.4" cy="246.8" r="1.25" fill="#ff61c2"/>
<circle cx="479.7" cy="249.4" r="1.25" fill="#ff61c2"/>
<circle cx="536.2" cy="241.6" r="1.25" fill="#ff61c2"/>
<circle cx="592.7" cy="238.9" r="1.25" fill="#ff61c2"/>
<circle cx="648.9" cy="207.9" r="1.25" fill="#ff61c2"/>
<polyline points="423.4,252.7 479.7,247.5 536.2,244.1 592.7,243.1 648.9,209.4" fill="none" stroke="#fc61d5" stroke-width="0.65" stroke-opacity="0.9"/>
<circle cx="423.4" cy="252.7" r="1.25" fill="#fc61d5"/>
<circle cx="479.7" cy="247.5" r="1.25" fill="#fc61d5"/>
<circle cx="536.2" cy="244.1" r="1.25" fill="#fc61d5"/>
<circle cx="592.7" cy="243.1" r="1.25" fill="#fc61d5"/>
<circle cx="648.9" cy="209.4" r="1.25" fill="#fc61d5"/>
<polyline points="423.4,240.9 479.7,237.5 536.2,238.4 592.7,231.9 648.9,198.7" fill="none" stroke="#ff64b1" stroke-width="0.65" stroke-opacity="0.9"/>
<circle cx="423.4" cy="240.9" r="1.25" fill="#ff64b1"/>
<circle cx="479.7" cy="237.5" r="1.25" fill="#ff64b1"/>
<circle cx="536.2" cy="238.4" r="1.25" fill="#ff64b1"/>
<circle cx="592.7" cy="231.9" r="1.25" fill="#ff64b1"/>
<circle cx="648.9" cy="198.7" r="1.25" fill="#ff64b1"/>
<polyline points="423.4,240.0 479.7,239.2 536.2,234.0 592.7,223.7 648.9,216.8" fill="none" stroke="#ff6c92" stroke-width="0.65" stroke-opacity="0.9"/>
<circle cx="423.4" cy="240.0" r="1.25" fill="#ff6c92"/>
<circle cx="479.7" cy="239.2" r="1.25" fill="#ff6c92"/>
<circle cx="536.2" cy="234.0" r="1.25" fill="#ff6c92"/>
<circle cx="592.7" cy="223.7" r="1.25" fill="#ff6c92"/>
<circle cx="648.9" cy="216.8" r="1.25" fill="#ff6c92"/>
<polyline points="423.4,240.2 479.7,236.0 536.2,225.5 592.7,226.8 648.9,233.6" fill="none" stroke="#ff68a0" stroke-width="0.65" stroke-opacity="0.9"/>
<circle cx="423.4" cy="240.2" r="1.25" fill="#ff68a0"/>
<circle cx="479.7" cy="236.0" r="1.25" fill="#ff68a0"/>
<circle cx="536.2" cy="225.5" r="1.25" fill="#ff68a0"/>
<circle cx="592.7" cy="226.8" r="1.25" fill="#ff68a0"/>
<circle cx="648.9" cy="233.6" r="1.25" fill="#ff68a0"/>
<polyline points="423.4,232.6 479.7,227.9 536.2,227.0 592.7,226.4 648.9,177.6" fill="none" stroke="#ff61c6" stroke-width="0.65" stroke-opacity="0.9"/>
<circle cx="423.4" cy="232.6" r="1.25" fill="#ff61c6"/>
<circle cx="479.7" cy="227.9" r="1.25" fill="#ff61c6"/>
<circle cx="536.2" cy="227.0" r="1.25" fill="#ff61c6"/>
<circle cx="592.7" cy="226.4" r="1.25" fill="#ff61c6"/>
<circle cx="648.9" cy="177.6" r="1.25" fill="#ff61c6"/>
<polyline points="423.4,224.1 479.7,232.2 536.2,226.1 592.7,230.4 648.9,217.8" fill="none" stroke="#ff61ca" stroke-width="0.65" stroke-opacity="0.9"/>
<circle cx="423.4" cy="224.1" r="1.25" fill="#ff61ca"/>
<circle cx="479.7" cy="232.2" r="1.25" fill="#ff61ca"/>
<circle cx="536.2" cy="226.1" r="1.25" fill="#ff61ca"/>
<circle cx="592.7" cy="230.4" r="1.25" fill="#ff61ca"/>
<circle cx="648.9" cy="217.8" r="1.25" fill="#ff61ca"/>
<polyline points="423.4,215.5 479.7,219.6 536.2,221.5 592.7,207.1 648.9,188.6" fill="none" stroke="#ff62ba" stroke-width="0.65" stroke-opacity="0.9"/>
<circle cx="423.4" cy="215.5" r="1.25" fill="#ff62ba"/>
<circle cx="479.7" cy="219.6" r="1.25" fill="#ff62ba"/>
<circle cx="536.2" cy="221.5" r="1.25" fill="#ff62ba"/>
<circle cx="592.7" cy="207.1" r="1.25" fill="#ff62ba"/>
<circle cx="648.9" cy="188.6" r="1.25" fill="#ff62ba"/>
<polyline points="423.4,225.1 479.7,216.3 536.2,212.5 592.7,219.0 648.9,180.2" fill="none" stroke="#d177ff" stroke-width="0.65" stroke-opacity="0.9"/>
<circle cx="423.4" cy="225.1" r="1.25" fill="#d177ff"/>
<circle cx="479.7" cy="216.3" r="1.25" fill="#d177ff"/>
<circle cx="536.2" cy="212.5" r="1.25" fill="#d177ff"/>
<circle cx="592.7" cy="219.0" r="1.25" fill="#d177ff"/>
<circle cx="648.9" cy="180.2" r="1.25" fill="#d177ff"/>
<polyline points="423.4,230.1 479.7,227.3 536.2,229.3 592.7,222.9 648.9,214.4" fill="none" stroke="#c87cff" stroke-width="0.65" stroke-opacity="0.9"/>
<circle cx="423.4" cy="230.1" r="1.25" fill="#c87cff"/>
<circle cx="479.7" cy="227.3" r="1.25" fill="#c87cff"/>
<circle cx="536.2" cy="229.3" r="1.25" fill="#c87cff"/>
<circle cx="592.7" cy="222.9" r="1.25" fill="#c87cff"/>
<circle cx="648.9" cy="214.4" r="1.25" fill="#c87cff"/>
<polyline points="423.4,222.8 479.7,220.5 536.2,218.9 592.7,217.9 648.9,205.4" fill="none" stroke="#fa7378" stroke-width="0.65" stroke-opacity="0.9"/>
<circle cx="423.4" cy="222.8" r="1.25" fill="#fa7378"/>
<circle cx="479.7" cy="220.5" r="1.25" fill="#fa7378"/>
<circle cx="536.2" cy="218.9" r="1.25" fill="#fa7378"/>
<circle cx="592.7" cy="217.9" r="1.25" fill="#fa7378"/>
<circle cx="648.9" cy="205.4" r="1.25" fill="#fa7378"/>
<polyline points="423.4,248.8 479.7,244.0 536.2,245.5 592.7,247.2 648.9,228.6" fill="none" stroke="#ff67a4" stroke-width="0.65" stroke-opacity="0.9"/>
<circle cx="423.4" cy="248.8" r="1.25" fill="#ff67a4"/>
<circle cx="479.7" cy="244.0" r="1.25" fill="#ff67a4"/>
<circle cx="536.2" cy="245.5" r="1.25" fill="#ff67a4"/>
<circle cx="592.7" cy="247.2" r="1.25" fill="#ff67a4"/>
<circle cx="648.9" cy="228.6" r="1.25" fill="#ff67a4"/>
<polyline points="423.4,215.5 479.7,217.7 536.2,225.7 592.7,220.2 648.9,222.6" fill="none" stroke="#fd61d1" stroke-width="0.65" stroke-opacity="0.9"/>
<circle cx="423.4" cy="215.5" r="1.25" fill="#fd61d1"/>
<circle cx="479.7" cy="217.7" r="1.25" fill="#fd61d1"/>
<circle cx="536.2" cy="225.7" r="1.25" fill="#fd61d1"/>
<circle cx="592.7" cy="220.2" r="1.25" fill="#fd61d1"/>
<circle cx="648.9" cy="222.6" r="1.25" fill="#fd61d1"/>
<polyline points="423.4,217.4 479.7,217.4 536.2,219.4 592.7,217.3 648.9,154.3" fill="none" stroke="#f265e8" stroke-width="0.65" stroke-opacity="0.9"/>
<circle cx="423.4" cy="217.4" r="1.25" fill="#f265e8"/>
<circle cx="479.7" cy="217.4" r="1.25" fill="#f265e8"/>
<circle cx="536.2" cy="219.4" r="1.25" fill="#f265e8"/>
<circle cx="592.7" cy="217.3" r="1.25" fill="#f265e8"/>
<circle cx="648.9" cy="154.3" r="1.25" fill="#f265e8"/>
<polyline points="423.4,263.4 479.7,265.0 536.2,264.7 592.7,260.7 648.9,249.2" fill="none" stroke="#ef67eb" stroke-width="0.65" stroke-opacity="0.9"/>
<circle cx="423.4" cy="263.4" r="1.25" fill="#ef67eb"/>
<circle cx="479.7" cy="265.0" r="1.25" fill="#ef67eb"/>
<circle cx="536.2" cy="264.7" r="1.25" fill="#ef67eb"/>
<circle cx="592.7" cy="260.7" r="1.25" fill="#ef67eb"/>
<circle cx="648.9" cy="249.2" r="1.25" fill="#ef67eb"/>
<polyline points="423.4,222.6 479.7,222.7 536.2,222.8 592.7,212.1 648.9,203.8" fill="none" stroke="#ff6b96" stroke-width="0.65" stroke-opacity="0.9"/>
<circle cx="423.4" cy="222.6" r="1.25" fill="#ff6b96"/>
<circle cx="479.7" cy="222.7" r="1.25" fill="#ff6b96"/>
<circle cx="536.2" cy="222.8" r="1.25" fill="#ff6b96"/>
<circle cx="592.7" cy="212.1" r="1.25" fill="#ff6b96"/>
<circle cx="648.9" cy="203.8" r="1.25" fill="#ff6b96"/>
</svg></body></html>
